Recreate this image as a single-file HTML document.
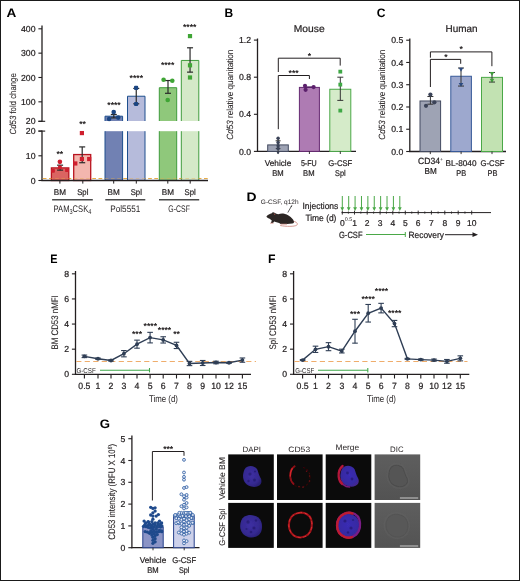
<!DOCTYPE html>
<html><head><meta charset="utf-8"><title>Figure</title>
<style>
html,body{margin:0;padding:0;background:#fff;}
body{width:520px;height:581px;overflow:hidden;font-family:"Liberation Sans",sans-serif;}
svg{display:block;font-family:"Liberation Sans",sans-serif;text-rendering:geometricPrecision;}
</style></head><body>
<svg width="520" height="581" viewBox="0 0 520 581" style="opacity:0.999">
<defs>
<filter id="b1" x="-20%" y="-20%" width="140%" height="140%"><feGaussianBlur stdDeviation="0.7"/></filter>
<filter id="b2" x="-20%" y="-20%" width="140%" height="140%"><feGaussianBlur stdDeviation="0.55"/></filter>
<radialGradient id="gb" cx="45%" cy="45%" r="60%"><stop offset="0" stop-color="#3d2fa2"/><stop offset="0.7" stop-color="#352990"/><stop offset="1" stop-color="#281f74"/></radialGradient>
<radialGradient id="gb2" cx="50%" cy="45%" r="60%"><stop offset="0" stop-color="#3a2db4"/><stop offset="0.7" stop-color="#3629a2"/><stop offset="1" stop-color="#46288c"/></radialGradient>
<linearGradient id="dic" x1="0" y1="0" x2="0" y2="1"><stop offset="0" stop-color="#5e5e5e"/><stop offset="1" stop-color="#535353"/></linearGradient>
</defs>
<rect x="0" y="0" width="520" height="581" fill="#fff"/>

<text transform="translate(6.56 16.80) scale(1.104 1)" font-size="12.3" font-weight="bold" fill="#000">A</text>
<line x1="42.00" y1="25.50" x2="42.00" y2="121.80" stroke="#231f20" stroke-width="1.3" />
<line x1="42.00" y1="130.60" x2="42.00" y2="181.10" stroke="#231f20" stroke-width="1.3" />
<line x1="38.40" y1="121.30" x2="45.20" y2="121.30" stroke="#231f20" stroke-width="1.1" />
<line x1="38.40" y1="131.10" x2="45.20" y2="131.10" stroke="#231f20" stroke-width="1.1" />
<line x1="38.40" y1="28.81" x2="42.00" y2="28.81" stroke="#231f20" stroke-width="1.1" />
<text transform="translate(35.50 31.96) scale(1.000 1)" font-size="8.7" text-anchor="end" font-weight="normal" fill="#231f20"  stroke="#231f20" stroke-width="0.22">400</text>
<line x1="38.40" y1="53.15" x2="42.00" y2="53.15" stroke="#231f20" stroke-width="1.1" />
<text transform="translate(35.50 56.30) scale(1.000 1)" font-size="8.7" text-anchor="end" font-weight="normal" fill="#231f20"  stroke="#231f20" stroke-width="0.22">300</text>
<line x1="38.40" y1="77.49" x2="42.00" y2="77.49" stroke="#231f20" stroke-width="1.1" />
<text transform="translate(35.50 80.64) scale(1.000 1)" font-size="8.7" text-anchor="end" font-weight="normal" fill="#231f20"  stroke="#231f20" stroke-width="0.22">200</text>
<line x1="38.40" y1="101.83" x2="42.00" y2="101.83" stroke="#231f20" stroke-width="1.1" />
<text transform="translate(35.50 104.98) scale(1.000 1)" font-size="8.7" text-anchor="end" font-weight="normal" fill="#231f20"  stroke="#231f20" stroke-width="0.22">100</text>
<line x1="38.40" y1="121.30" x2="42.00" y2="121.30" stroke="#231f20" stroke-width="1.1" />
<text transform="translate(35.50 124.45) scale(1.000 1)" font-size="8.7" text-anchor="end" font-weight="normal" fill="#231f20"  stroke="#231f20" stroke-width="0.22">20</text>
<line x1="38.40" y1="131.10" x2="42.00" y2="131.10" stroke="#231f20" stroke-width="1.1" />
<text transform="translate(35.50 134.25) scale(1.000 1)" font-size="8.7" text-anchor="end" font-weight="normal" fill="#231f20"  stroke="#231f20" stroke-width="0.22">20</text>
<line x1="38.40" y1="155.80" x2="42.00" y2="155.80" stroke="#231f20" stroke-width="1.1" />
<text transform="translate(35.50 158.95) scale(1.000 1)" font-size="8.7" text-anchor="end" font-weight="normal" fill="#231f20"  stroke="#231f20" stroke-width="0.22">10</text>
<line x1="38.40" y1="180.50" x2="42.00" y2="180.50" stroke="#231f20" stroke-width="1.1" />
<text transform="translate(35.50 183.65) scale(1.000 1)" font-size="8.7" text-anchor="end" font-weight="normal" fill="#231f20"  stroke="#231f20" stroke-width="0.22">0</text>
<line x1="42.80" y1="178.50" x2="208.00" y2="178.50" stroke="#e8ac48" stroke-width="1" stroke-dasharray="3.6 2.6"/>
<rect x="51.40" y="167.90" width="17.40" height="12.60" fill="#da6461" stroke="#b8141f" stroke-width="1.3" />
<line x1="60.10" y1="170.13" x2="60.10" y2="165.19" stroke="#2a2a2a" stroke-width="1.2" />
<line x1="57.10" y1="170.13" x2="63.10" y2="170.13" stroke="#2a2a2a" stroke-width="1.2" />
<line x1="57.10" y1="165.19" x2="63.10" y2="165.19" stroke="#2a2a2a" stroke-width="1.2" />
<circle cx="59.90" cy="161.83" r="2.3" fill="#cf1f2e" stroke="none" stroke-width="1" />
<rect x="51.10" y="168.97" width="3.80" height="3.80" fill="#cf1f2e" stroke="none" stroke-width="1" rx="0.9"/>
<rect x="58.00" y="165.51" width="3.80" height="3.80" fill="#cf1f2e" stroke="none" stroke-width="1" rx="0.9"/>
<rect x="65.10" y="168.23" width="3.80" height="3.80" fill="#cf1f2e" stroke="none" stroke-width="1" rx="0.9"/>
<rect x="73.70" y="154.56" width="17.00" height="25.94" fill="#f3b6ae" stroke="#b8141f" stroke-width="1.3" />
<line x1="82.20" y1="162.72" x2="82.20" y2="146.91" stroke="#2a2a2a" stroke-width="1.2" />
<line x1="79.20" y1="162.72" x2="85.20" y2="162.72" stroke="#2a2a2a" stroke-width="1.2" />
<line x1="79.20" y1="146.91" x2="85.20" y2="146.91" stroke="#2a2a2a" stroke-width="1.2" />
<rect x="73.20" y="161.36" width="4.20" height="4.20" fill="#cf1f2e" stroke="none" stroke-width="1" />
<rect x="79.80" y="130.98" width="4.20" height="4.20" fill="#cf1f2e" stroke="none" stroke-width="1" />
<rect x="79.80" y="156.91" width="4.20" height="4.20" fill="#cf1f2e" stroke="none" stroke-width="1" />
<rect x="87.10" y="156.91" width="4.20" height="4.20" fill="#cf1f2e" stroke="none" stroke-width="1" />
<rect x="105.00" y="131.20" width="17.60" height="49.30" fill="#7181b3" stroke="none" stroke-width="1" />
<line x1="105.00" y1="131.20" x2="105.00" y2="180.50" stroke="#1e4f8e" stroke-width="1" />
<line x1="122.60" y1="131.20" x2="122.60" y2="180.50" stroke="#1e4f8e" stroke-width="1" />
<rect x="105.00" y="116.19" width="17.60" height="4.81" fill="#7181b3" stroke="none" stroke-width="1" />
<path d="M105 121 V116.19 H122.6 V121" fill="none" stroke="#1e4f8e" stroke-width="1"/>
<line x1="113.80" y1="117.89" x2="113.80" y2="114.48" stroke="#2a2a2a" stroke-width="1.2" />
<line x1="110.80" y1="117.89" x2="116.80" y2="117.89" stroke="#2a2a2a" stroke-width="1.2" />
<line x1="110.80" y1="114.48" x2="116.80" y2="114.48" stroke="#2a2a2a" stroke-width="1.2" />
<circle cx="109.10" cy="118.99" r="2.3" fill="#1b4582" stroke="none" stroke-width="1" />
<circle cx="113.70" cy="112.10" r="2.3" fill="#1b4582" stroke="none" stroke-width="1" />
<circle cx="118.20" cy="117.60" r="2.3" fill="#1b4582" stroke="none" stroke-width="1" />
<rect x="127.50" y="131.20" width="17.50" height="49.30" fill="#b6bbdb" stroke="none" stroke-width="1" />
<line x1="127.50" y1="131.20" x2="127.50" y2="180.50" stroke="#1e4f8e" stroke-width="1" />
<line x1="145.00" y1="131.20" x2="145.00" y2="180.50" stroke="#1e4f8e" stroke-width="1" />
<rect x="127.50" y="96.23" width="17.50" height="24.77" fill="#b6bbdb" stroke="none" stroke-width="1" />
<path d="M127.5 121 V96.23 H145 V121" fill="none" stroke="#1e4f8e" stroke-width="1"/>
<line x1="136.25" y1="103.78" x2="136.25" y2="88.44" stroke="#2a2a2a" stroke-width="1.2" />
<line x1="133.25" y1="103.78" x2="139.25" y2="103.78" stroke="#2a2a2a" stroke-width="1.2" />
<line x1="133.25" y1="88.44" x2="139.25" y2="88.44" stroke="#2a2a2a" stroke-width="1.2" />
<rect x="134.00" y="85.85" width="4.20" height="4.20" fill="#1b4582" stroke="none" stroke-width="1" rx="1.1"/>
<rect x="134.00" y="101.92" width="4.20" height="4.20" fill="#1b4582" stroke="none" stroke-width="1" rx="1.1"/>
<rect x="159.30" y="131.20" width="17.40" height="49.30" fill="#8fc87b" stroke="none" stroke-width="1" />
<line x1="159.30" y1="131.20" x2="159.30" y2="180.50" stroke="#3f9c3c" stroke-width="1" />
<line x1="176.70" y1="131.20" x2="176.70" y2="180.50" stroke="#3f9c3c" stroke-width="1" />
<rect x="159.30" y="87.71" width="17.40" height="33.29" fill="#8fc87b" stroke="none" stroke-width="1" />
<path d="M159.3 121 V87.71 H176.7 V121" fill="none" stroke="#3f9c3c" stroke-width="1"/>
<line x1="168.00" y1="93.31" x2="168.00" y2="80.53" stroke="#2a2a2a" stroke-width="1.2" />
<line x1="165.00" y1="93.31" x2="171.00" y2="93.31" stroke="#2a2a2a" stroke-width="1.2" />
<line x1="165.00" y1="80.53" x2="171.00" y2="80.53" stroke="#2a2a2a" stroke-width="1.2" />
<circle cx="163.60" cy="79.80" r="2.3" fill="#3fa535" stroke="none" stroke-width="1" />
<circle cx="172.30" cy="80.80" r="2.3" fill="#3fa535" stroke="none" stroke-width="1" />
<circle cx="167.70" cy="100.00" r="2.3" fill="#3fa535" stroke="none" stroke-width="1" />
<rect x="181.30" y="131.20" width="17.50" height="49.30" fill="#d4e9c8" stroke="none" stroke-width="1" />
<line x1="181.30" y1="131.20" x2="181.30" y2="180.50" stroke="#3f9c3c" stroke-width="1" />
<line x1="198.80" y1="131.20" x2="198.80" y2="180.50" stroke="#3f9c3c" stroke-width="1" />
<rect x="181.30" y="60.45" width="17.50" height="60.55" fill="#d4e9c8" stroke="none" stroke-width="1" />
<path d="M181.3 121 V60.45 H198.8 V121" fill="none" stroke="#3f9c3c" stroke-width="1"/>
<line x1="190.05" y1="72.13" x2="190.05" y2="47.79" stroke="#2a2a2a" stroke-width="1.2" />
<line x1="187.05" y1="72.13" x2="193.05" y2="72.13" stroke="#2a2a2a" stroke-width="1.2" />
<line x1="187.05" y1="47.79" x2="193.05" y2="47.79" stroke="#2a2a2a" stroke-width="1.2" />
<rect x="187.90" y="34.01" width="4.20" height="4.20" fill="#3fa535" stroke="none" stroke-width="1" />
<rect x="187.90" y="63.22" width="4.20" height="4.20" fill="#3fa535" stroke="none" stroke-width="1" />
<rect x="187.90" y="75.39" width="4.20" height="4.20" fill="#3fa535" stroke="none" stroke-width="1" />
<text transform="translate(59.80 156.82) scale(1.000 1)" font-size="8.6" text-anchor="middle" font-weight="bold" fill="#231f20" >**</text>
<text transform="translate(82.50 127.32) scale(1.000 1)" font-size="8.6" text-anchor="middle" font-weight="bold" fill="#231f20" >**</text>
<text transform="translate(114.00 107.92) scale(1.000 1)" font-size="8.6" text-anchor="middle" font-weight="bold" fill="#231f20" >****</text>
<text transform="translate(136.30 81.12) scale(1.000 1)" font-size="8.6" text-anchor="middle" font-weight="bold" fill="#231f20" >****</text>
<text transform="translate(167.60 67.92) scale(1.000 1)" font-size="8.6" text-anchor="middle" font-weight="bold" fill="#231f20" >****</text>
<text transform="translate(189.70 30.22) scale(1.000 1)" font-size="8.6" text-anchor="middle" font-weight="bold" fill="#231f20" >****</text>
<line x1="41.40" y1="180.50" x2="208.00" y2="180.50" stroke="#231f20" stroke-width="1.3" />
<line x1="42.80" y1="178.50" x2="208.00" y2="178.50" stroke="#e8ac48" stroke-width="1" stroke-dasharray="3.6 2.6" opacity="0.4"/>
<line x1="59.90" y1="180.50" x2="59.90" y2="183.60" stroke="#231f20" stroke-width="1" />
<text transform="translate(59.90 194.50) scale(0.980 1)" font-size="8.3" text-anchor="middle" font-weight="normal" fill="#231f20"  stroke="#231f20" stroke-width="0.22">BM</text>
<line x1="82.80" y1="180.50" x2="82.80" y2="183.60" stroke="#231f20" stroke-width="1" />
<text transform="translate(82.80 194.50) scale(0.934 1)" font-size="8.3" text-anchor="middle" font-weight="normal" fill="#231f20"  stroke="#231f20" stroke-width="0.22">Spl</text>
<line x1="113.70" y1="180.50" x2="113.70" y2="183.60" stroke="#231f20" stroke-width="1" />
<text transform="translate(113.70 194.50) scale(0.980 1)" font-size="8.3" text-anchor="middle" font-weight="normal" fill="#231f20"  stroke="#231f20" stroke-width="0.22">BM</text>
<line x1="136.30" y1="180.50" x2="136.30" y2="183.60" stroke="#231f20" stroke-width="1" />
<text transform="translate(136.30 194.50) scale(0.934 1)" font-size="8.3" text-anchor="middle" font-weight="normal" fill="#231f20"  stroke="#231f20" stroke-width="0.22">Spl</text>
<line x1="167.80" y1="180.50" x2="167.80" y2="183.60" stroke="#231f20" stroke-width="1" />
<text transform="translate(167.80 194.50) scale(0.980 1)" font-size="8.3" text-anchor="middle" font-weight="normal" fill="#231f20"  stroke="#231f20" stroke-width="0.22">BM</text>
<line x1="190.20" y1="180.50" x2="190.20" y2="183.60" stroke="#231f20" stroke-width="1" />
<text transform="translate(190.20 194.50) scale(0.934 1)" font-size="8.3" text-anchor="middle" font-weight="normal" fill="#231f20"  stroke="#231f20" stroke-width="0.22">Spl</text>
<line x1="52.10" y1="199.80" x2="92.80" y2="199.80" stroke="#4a4a4a" stroke-width="1.4" />
<text transform="translate(72.45 211.80) scale(0.799 1)" font-size="9.5" text-anchor="middle" font-weight="normal" fill="#231f20" >PAM<tspan font-size="7" dy="2">3</tspan><tspan dy="-2">CSK</tspan><tspan font-size="7" dy="2">4</tspan></text>
<line x1="105.30" y1="199.80" x2="145.30" y2="199.80" stroke="#4a4a4a" stroke-width="1.4" />
<text transform="translate(125.30 211.80) scale(0.861 1)" font-size="9.5" text-anchor="middle" font-weight="normal" fill="#231f20" >Pol5551</text>
<line x1="159.00" y1="199.80" x2="199.20" y2="199.80" stroke="#4a4a4a" stroke-width="1.4" />
<text transform="translate(179.10 211.80) scale(0.728 1)" font-size="9.5" text-anchor="middle" font-weight="normal" fill="#231f20" >G-CSF</text>
<text transform="translate(15.50 103.80) rotate(-90) scale(0.867 1)" font-size="9" text-anchor="middle" fill="#231f20" stroke="#231f20" stroke-width="0.08"><tspan font-style="italic">Cd53</tspan> fold change</text>
<text transform="translate(224.40 16.80) scale(0.975 1)" font-size="12.3" font-weight="bold" fill="#000">B</text>
<text transform="translate(309.20 32.30) scale(1.026 1)" font-size="10" text-anchor="middle" font-weight="normal" fill="#231f20"  stroke="#231f20" stroke-width="0.22">Mouse</text>
<line x1="257.50" y1="38.50" x2="257.50" y2="152.00" stroke="#231f20" stroke-width="1.3" />
<line x1="256.90" y1="151.40" x2="356.00" y2="151.40" stroke="#231f20" stroke-width="1.3" />
<line x1="253.90" y1="151.40" x2="257.50" y2="151.40" stroke="#231f20" stroke-width="1.1" />
<text transform="translate(251.00 154.55) scale(1.000 1)" font-size="8.7" text-anchor="end" font-weight="normal" fill="#231f20"  stroke="#231f20" stroke-width="0.22">0.0</text>
<line x1="253.90" y1="114.30" x2="257.50" y2="114.30" stroke="#231f20" stroke-width="1.1" />
<text transform="translate(251.00 117.45) scale(1.000 1)" font-size="8.7" text-anchor="end" font-weight="normal" fill="#231f20"  stroke="#231f20" stroke-width="0.22">0.4</text>
<line x1="253.90" y1="77.20" x2="257.50" y2="77.20" stroke="#231f20" stroke-width="1.1" />
<text transform="translate(251.00 80.35) scale(1.000 1)" font-size="8.7" text-anchor="end" font-weight="normal" fill="#231f20"  stroke="#231f20" stroke-width="0.22">0.8</text>
<line x1="253.90" y1="40.10" x2="257.50" y2="40.10" stroke="#231f20" stroke-width="1.1" />
<text transform="translate(251.00 43.25) scale(1.000 1)" font-size="8.7" text-anchor="end" font-weight="normal" fill="#231f20"  stroke="#231f20" stroke-width="0.22">1.2</text>
<rect x="267.70" y="144.91" width="20.60" height="6.49" fill="#9ea3b4" stroke="#434a60" stroke-width="1" />
<line x1="278.00" y1="151.40" x2="278.00" y2="154.00" stroke="#231f20" stroke-width="0.9" />
<rect x="299.40" y="87.40" width="20.00" height="64.00" fill="#ae7bb3" stroke="#652a72" stroke-width="1" />
<line x1="309.40" y1="151.40" x2="309.40" y2="154.00" stroke="#231f20" stroke-width="0.9" />
<rect x="329.80" y="89.26" width="21.00" height="62.14" fill="#d5ebc9" stroke="#4aa847" stroke-width="1" />
<line x1="340.30" y1="151.40" x2="340.30" y2="154.00" stroke="#231f20" stroke-width="0.9" />
<line x1="278.10" y1="138.00" x2="278.10" y2="152.50" stroke="#333" stroke-width="1" />
<line x1="275.60" y1="140.80" x2="280.60" y2="140.80" stroke="#333" stroke-width="1" />
<line x1="275.80" y1="148.60" x2="280.40" y2="148.60" stroke="#333" stroke-width="1" />
<circle cx="278.10" cy="138.30" r="1.75" fill="#3b4358" stroke="none" stroke-width="1" />
<circle cx="278.10" cy="142.40" r="1.75" fill="#3b4358" stroke="none" stroke-width="1" />
<circle cx="278.10" cy="145.80" r="1.75" fill="#3b4358" stroke="none" stroke-width="1" />
<circle cx="278.10" cy="148.60" r="1.75" fill="#3b4358" stroke="none" stroke-width="1" />
<path d="M276.3 151.6 h3.6 l-1.8 2.6z" fill="#3b4358"/>
<line x1="305.00" y1="87.03" x2="314.50" y2="87.03" stroke="#4a1a5a" stroke-width="1.2" />
<circle cx="305.00" cy="85.83" r="2.1" fill="#5b1f6c" stroke="none" stroke-width="1" />
<circle cx="305.60" cy="89.81" r="2.1" fill="#5b1f6c" stroke="none" stroke-width="1" />
<circle cx="313.60" cy="87.03" r="2.1" fill="#5b1f6c" stroke="none" stroke-width="1" />
<line x1="340.30" y1="100.39" x2="340.30" y2="77.20" stroke="#333" stroke-width="1" />
<line x1="337.30" y1="100.39" x2="343.30" y2="100.39" stroke="#333" stroke-width="1" />
<line x1="337.30" y1="77.20" x2="343.30" y2="77.20" stroke="#333" stroke-width="1" />
<rect x="338.40" y="69.73" width="3.80" height="3.80" fill="#3fa846" stroke="none" stroke-width="1" />
<rect x="338.40" y="82.72" width="3.80" height="3.80" fill="#3fa846" stroke="none" stroke-width="1" />
<rect x="338.40" y="108.69" width="3.80" height="3.80" fill="#3fa846" stroke="none" stroke-width="1" />
<path d="M278.3 72 V58.2 H340.2 V65.6" fill="none" stroke="#231f20" stroke-width="1"/>
<path d="M278.3 129.2 V75.5 H309.4 V79" fill="none" stroke="#231f20" stroke-width="1"/>
<text transform="translate(309.40 59.02) scale(1.000 1)" font-size="8.6" text-anchor="middle" font-weight="bold" fill="#231f20" >*</text>
<text transform="translate(293.60 75.82) scale(1.000 1)" font-size="8.6" text-anchor="middle" font-weight="bold" fill="#231f20" >***</text>
<text transform="translate(278.00 165.50) scale(0.990 1)" font-size="8.3" text-anchor="middle" font-weight="normal" fill="#231f20"  stroke="#231f20" stroke-width="0.22">Vehicle</text>
<text transform="translate(278.00 175.70) scale(0.924 1)" font-size="8.3" text-anchor="middle" font-weight="normal" fill="#231f20"  stroke="#231f20" stroke-width="0.22">BM</text>
<text transform="translate(308.80 165.50) scale(0.857 1)" font-size="8.3" text-anchor="middle" font-weight="normal" fill="#231f20"  stroke="#231f20" stroke-width="0.22">5-FU</text>
<text transform="translate(308.80 175.70) scale(0.924 1)" font-size="8.3" text-anchor="middle" font-weight="normal" fill="#231f20"  stroke="#231f20" stroke-width="0.22">BM</text>
<text transform="translate(340.30 165.50) scale(0.926 1)" font-size="8.3" text-anchor="middle" font-weight="normal" fill="#231f20"  stroke="#231f20" stroke-width="0.22">G-CSF</text>
<text transform="translate(340.30 175.70) scale(0.884 1)" font-size="8.3" text-anchor="middle" font-weight="normal" fill="#231f20"  stroke="#231f20" stroke-width="0.22">Spl</text>
<text transform="translate(233.40 94.70) rotate(-90) scale(0.904 1)" font-size="9" text-anchor="middle" fill="#231f20" stroke="#231f20" stroke-width="0.08"><tspan font-style="italic">Cd53</tspan> relative quanitation</text>
<text transform="translate(376.80 16.90) scale(0.984 1)" font-size="12.3" font-weight="bold" fill="#000">C</text>
<text transform="translate(461.50 31.90) scale(0.993 1)" font-size="10" text-anchor="middle" font-weight="normal" fill="#231f20"  stroke="#231f20" stroke-width="0.22">Human</text>
<line x1="409.80" y1="38.50" x2="409.80" y2="152.10" stroke="#231f20" stroke-width="1.3" />
<line x1="409.20" y1="151.50" x2="506.00" y2="151.50" stroke="#231f20" stroke-width="1.3" />
<line x1="406.20" y1="151.50" x2="409.80" y2="151.50" stroke="#231f20" stroke-width="1.1" />
<text transform="translate(403.30 154.65) scale(1.000 1)" font-size="8.7" text-anchor="end" font-weight="normal" fill="#231f20"  stroke="#231f20" stroke-width="0.22">0.0</text>
<line x1="406.20" y1="129.24" x2="409.80" y2="129.24" stroke="#231f20" stroke-width="1.1" />
<text transform="translate(403.30 132.39) scale(1.000 1)" font-size="8.7" text-anchor="end" font-weight="normal" fill="#231f20"  stroke="#231f20" stroke-width="0.22">0.1</text>
<line x1="406.20" y1="106.98" x2="409.80" y2="106.98" stroke="#231f20" stroke-width="1.1" />
<text transform="translate(403.30 110.13) scale(1.000 1)" font-size="8.7" text-anchor="end" font-weight="normal" fill="#231f20"  stroke="#231f20" stroke-width="0.22">0.2</text>
<line x1="406.20" y1="84.72" x2="409.80" y2="84.72" stroke="#231f20" stroke-width="1.1" />
<text transform="translate(403.30 87.87) scale(1.000 1)" font-size="8.7" text-anchor="end" font-weight="normal" fill="#231f20"  stroke="#231f20" stroke-width="0.22">0.3</text>
<line x1="406.20" y1="62.46" x2="409.80" y2="62.46" stroke="#231f20" stroke-width="1.1" />
<text transform="translate(403.30 65.61) scale(1.000 1)" font-size="8.7" text-anchor="end" font-weight="normal" fill="#231f20"  stroke="#231f20" stroke-width="0.22">0.4</text>
<line x1="406.20" y1="40.20" x2="409.80" y2="40.20" stroke="#231f20" stroke-width="1.1" />
<text transform="translate(403.30 43.35) scale(1.000 1)" font-size="8.7" text-anchor="end" font-weight="normal" fill="#231f20"  stroke="#231f20" stroke-width="0.22">0.5</text>
<rect x="420.00" y="100.97" width="20.60" height="50.53" fill="#9ea3b4" stroke="#434a60" stroke-width="1" />
<line x1="430.30" y1="151.50" x2="430.30" y2="154.10" stroke="#231f20" stroke-width="0.9" />
<rect x="450.80" y="76.26" width="20.60" height="75.24" fill="#9da8ce" stroke="#385a9a" stroke-width="1" />
<line x1="461.10" y1="151.50" x2="461.10" y2="154.10" stroke="#231f20" stroke-width="0.9" />
<rect x="481.50" y="77.37" width="21.00" height="74.13" fill="#c2e2b2" stroke="#4aa847" stroke-width="1" />
<line x1="492.00" y1="151.50" x2="492.00" y2="154.10" stroke="#231f20" stroke-width="0.9" />
<line x1="430.40" y1="104.20" x2="430.40" y2="96.52" stroke="#333" stroke-width="1" />
<line x1="427.40" y1="104.20" x2="433.40" y2="104.20" stroke="#333" stroke-width="1" />
<line x1="427.40" y1="96.52" x2="433.40" y2="96.52" stroke="#333" stroke-width="1" />
<circle cx="426.00" cy="105.80" r="2.1" fill="#3b4358" stroke="none" stroke-width="1" />
<circle cx="430.40" cy="94.60" r="2.1" fill="#3b4358" stroke="none" stroke-width="1" />
<circle cx="434.40" cy="102.31" r="2.1" fill="#3b4358" stroke="none" stroke-width="1" />
<line x1="461.00" y1="86.06" x2="461.00" y2="68.03" stroke="#333" stroke-width="1" />
<line x1="458.00" y1="86.06" x2="464.00" y2="86.06" stroke="#333" stroke-width="1" />
<line x1="458.00" y1="68.03" x2="464.00" y2="68.03" stroke="#333" stroke-width="1" />
<path d="M458.70 67.74 h4.6 l-2.3 3.91z" fill="#2c4a80"/>
<path d="M458.70 82.88 h4.6 l-2.3 3.91z" fill="#2c4a80"/>
<line x1="492.00" y1="82.05" x2="492.00" y2="72.48" stroke="#333" stroke-width="1" />
<line x1="489.00" y1="82.05" x2="495.00" y2="82.05" stroke="#333" stroke-width="1" />
<line x1="489.00" y1="72.48" x2="495.00" y2="72.48" stroke="#333" stroke-width="1" />
<path d="M489.70 71.97 h4.6 l-2.3 3.91z" fill="#3f9c3c"/>
<path d="M489.70 78.87 h4.6 l-2.3 3.91z" fill="#3f9c3c"/>
<path d="M430.4 57.7 V51.9 H491.9 V66.2" fill="none" stroke="#231f20" stroke-width="1"/>
<path d="M430.4 87 V59.4 H460.7 V63.8" fill="none" stroke="#231f20" stroke-width="1"/>
<text transform="translate(461.20 52.42) scale(1.000 1)" font-size="8.6" text-anchor="middle" font-weight="bold" fill="#231f20" >*</text>
<text transform="translate(445.80 59.52) scale(1.000 1)" font-size="8.6" text-anchor="middle" font-weight="bold" fill="#231f20" >*</text>
<text transform="translate(429.00 164.30) scale(0.952 1)" font-size="9" text-anchor="middle" font-weight="normal" fill="#231f20"  stroke="#231f20" stroke-width="0.22">CD34</text>
<text transform="translate(441.40 160.50) scale(1.000 1)" font-size="5" text-anchor="middle" font-weight="normal" fill="#231f20" >+</text>
<text transform="translate(430.60 173.80) scale(0.946 1)" font-size="8.6" text-anchor="middle" font-weight="normal" fill="#231f20"  stroke="#231f20" stroke-width="0.22">BM</text>
<text transform="translate(461.00 165.50) scale(0.985 1)" font-size="8.3" text-anchor="middle" font-weight="normal" fill="#231f20"  stroke="#231f20" stroke-width="0.22">BL-8040</text>
<text transform="translate(461.30 175.50) scale(0.894 1)" font-size="8.3" text-anchor="middle" font-weight="normal" fill="#231f20"  stroke="#231f20" stroke-width="0.22">PB</text>
<text transform="translate(492.50 165.50) scale(0.926 1)" font-size="8.3" text-anchor="middle" font-weight="normal" fill="#231f20"  stroke="#231f20" stroke-width="0.22">G-CSF</text>
<text transform="translate(492.50 175.50) scale(0.894 1)" font-size="8.3" text-anchor="middle" font-weight="normal" fill="#231f20"  stroke="#231f20" stroke-width="0.22">PB</text>
<text transform="translate(385.20 94.70) rotate(-90) scale(0.904 1)" font-size="9" text-anchor="middle" fill="#231f20" stroke="#231f20" stroke-width="0.08"><tspan font-style="italic">Cd53</tspan> relative quanitation</text>
<text transform="translate(246.57 201.00) scale(1.129 1)" font-size="12.3" font-weight="bold" fill="#000">D</text>
<text transform="translate(260.80 203.80) scale(1.006 1)" font-size="6.5" text-anchor="start" font-weight="normal" fill="#231f20" >G-CSF, q12h</text>
<line x1="291.60" y1="205.80" x2="287.80" y2="212.60" stroke="#3a3a3a" stroke-width="0.8" />
<path d="M292.3 204.8 l-1.7 1.6 l1.2 0.7z" fill="#3a3a3a"/>
<g>
<path d="M293.4 221.3 C296.6 221.6 298.3 223.8 296.8 225.1 C294.6 226.8 286 226.6 280.6 225.6" fill="none" stroke="#cf8f86" stroke-width="0.9" stroke-linecap="round"/>
<path d="M266.4 216.4 C267.8 215 269.8 213.8 271.8 213.3 C272.2 212 273.8 211.7 274.5 212.8 C275.8 213.4 277 214.2 278.2 214.2 C280 213.6 282.5 213.4 284.2 213.8 C286 214.2 287.6 214.9 288.9 215.8 C291.4 217.4 293.3 219.4 293.9 221.4 C294.2 222.6 293.6 223.3 292.4 223.4 L287 223.9 L280.6 223.9 C279.8 223.3 278.6 222.8 277.4 222.5 C276.2 222.1 275 221.7 274.2 221.4 L273 223 L270.9 223 L271.8 220.4 C270.6 219.8 269.8 219 269.2 218.6 C268 218.2 267 217.4 266.4 216.4Z" fill="#2c2624"/>
<path d="M270.5 223.2 h2.6" stroke="#cf8f86" stroke-width="0.8" stroke-linecap="round"/>
<path d="M281 224.2 h5.6" stroke="#cf8f86" stroke-width="0.8" stroke-linecap="round"/>
<path d="M274.3 213.4 l0.6 1.6" stroke="#b0564e" stroke-width="0.8"/>
</g>
<text transform="translate(302.50 208.50) scale(0.942 1)" font-size="9" text-anchor="start" font-weight="normal" fill="#231f20"  stroke="#231f20" stroke-width="0.22">Injections</text>
<text transform="translate(305.40 221.00) scale(0.935 1)" font-size="9" text-anchor="start" font-weight="normal" fill="#231f20"  stroke="#231f20" stroke-width="0.22">Time (d)</text>
<line x1="341.50" y1="212.60" x2="491.00" y2="212.60" stroke="#231f20" stroke-width="1" />
<line x1="342.30" y1="210.60" x2="342.30" y2="214.60" stroke="#231f20" stroke-width="0.9" />
<text transform="translate(342.30 225.60) scale(1.000 1)" font-size="8.5" text-anchor="middle" font-weight="normal" fill="#231f20"  stroke="#231f20" stroke-width="0.22">0</text>
<line x1="354.50" y1="210.60" x2="354.50" y2="214.60" stroke="#231f20" stroke-width="0.9" />
<text transform="translate(354.50 225.60) scale(1.000 1)" font-size="8.5" text-anchor="middle" font-weight="normal" fill="#231f20"  stroke="#231f20" stroke-width="0.22">1</text>
<line x1="367.20" y1="210.60" x2="367.20" y2="214.60" stroke="#231f20" stroke-width="0.9" />
<text transform="translate(367.20 225.60) scale(1.000 1)" font-size="8.5" text-anchor="middle" font-weight="normal" fill="#231f20"  stroke="#231f20" stroke-width="0.22">2</text>
<line x1="380.10" y1="210.60" x2="380.10" y2="214.60" stroke="#231f20" stroke-width="0.9" />
<text transform="translate(380.10 225.60) scale(1.000 1)" font-size="8.5" text-anchor="middle" font-weight="normal" fill="#231f20"  stroke="#231f20" stroke-width="0.22">3</text>
<line x1="392.80" y1="210.60" x2="392.80" y2="214.60" stroke="#231f20" stroke-width="0.9" />
<text transform="translate(392.80 225.60) scale(1.000 1)" font-size="8.5" text-anchor="middle" font-weight="normal" fill="#231f20"  stroke="#231f20" stroke-width="0.22">4</text>
<line x1="405.30" y1="210.60" x2="405.30" y2="214.60" stroke="#231f20" stroke-width="0.9" />
<text transform="translate(405.30 225.60) scale(1.000 1)" font-size="8.5" text-anchor="middle" font-weight="normal" fill="#231f20"  stroke="#231f20" stroke-width="0.22">5</text>
<line x1="418.20" y1="210.60" x2="418.20" y2="214.60" stroke="#231f20" stroke-width="0.9" />
<text transform="translate(418.20 225.60) scale(1.000 1)" font-size="8.5" text-anchor="middle" font-weight="normal" fill="#231f20"  stroke="#231f20" stroke-width="0.22">6</text>
<line x1="431.40" y1="210.60" x2="431.40" y2="214.60" stroke="#231f20" stroke-width="0.9" />
<text transform="translate(431.40 225.60) scale(1.000 1)" font-size="8.5" text-anchor="middle" font-weight="normal" fill="#231f20"  stroke="#231f20" stroke-width="0.22">7</text>
<line x1="444.80" y1="210.60" x2="444.80" y2="214.60" stroke="#231f20" stroke-width="0.9" />
<text transform="translate(444.80 225.60) scale(1.000 1)" font-size="8.5" text-anchor="middle" font-weight="normal" fill="#231f20"  stroke="#231f20" stroke-width="0.22">8</text>
<line x1="458.20" y1="210.60" x2="458.20" y2="214.60" stroke="#231f20" stroke-width="0.9" />
<text transform="translate(458.20 225.60) scale(1.000 1)" font-size="8.5" text-anchor="middle" font-weight="normal" fill="#231f20"  stroke="#231f20" stroke-width="0.22">9</text>
<line x1="471.70" y1="210.60" x2="471.70" y2="214.60" stroke="#231f20" stroke-width="0.9" />
<text transform="translate(471.70 225.60) scale(1.000 1)" font-size="8.5" text-anchor="middle" font-weight="normal" fill="#231f20"  stroke="#231f20" stroke-width="0.22">10</text>
<line x1="348.40" y1="211.40" x2="348.40" y2="213.80" stroke="#231f20" stroke-width="0.7" />
<line x1="360.85" y1="211.40" x2="360.85" y2="213.80" stroke="#231f20" stroke-width="0.7" />
<line x1="373.65" y1="211.40" x2="373.65" y2="213.80" stroke="#231f20" stroke-width="0.7" />
<line x1="386.45" y1="211.40" x2="386.45" y2="213.80" stroke="#231f20" stroke-width="0.7" />
<line x1="399.05" y1="211.40" x2="399.05" y2="213.80" stroke="#231f20" stroke-width="0.7" />
<line x1="411.75" y1="211.40" x2="411.75" y2="213.80" stroke="#231f20" stroke-width="0.7" />
<line x1="424.80" y1="211.40" x2="424.80" y2="213.80" stroke="#231f20" stroke-width="0.7" />
<line x1="438.10" y1="211.40" x2="438.10" y2="213.80" stroke="#231f20" stroke-width="0.7" />
<line x1="451.50" y1="211.40" x2="451.50" y2="213.80" stroke="#231f20" stroke-width="0.7" />
<line x1="464.95" y1="211.40" x2="464.95" y2="213.80" stroke="#231f20" stroke-width="0.7" />
<text transform="translate(348.40 220.60) scale(1.000 1)" font-size="5.4" text-anchor="middle" font-weight="normal" fill="#231f20" >0.5</text>
<line x1="342.30" y1="196.00" x2="342.30" y2="208.50" stroke="#4aa847" stroke-width="1" />
<path d="M340.40 207.3 h3.8 l-1.9 3.6z" fill="#4aa847"/>
<line x1="348.69" y1="196.00" x2="348.69" y2="208.50" stroke="#4aa847" stroke-width="1" />
<path d="M346.79 207.3 h3.8 l-1.9 3.6z" fill="#4aa847"/>
<line x1="355.08" y1="196.00" x2="355.08" y2="208.50" stroke="#4aa847" stroke-width="1" />
<path d="M353.18 207.3 h3.8 l-1.9 3.6z" fill="#4aa847"/>
<line x1="361.47" y1="196.00" x2="361.47" y2="208.50" stroke="#4aa847" stroke-width="1" />
<path d="M359.57 207.3 h3.8 l-1.9 3.6z" fill="#4aa847"/>
<line x1="367.86" y1="196.00" x2="367.86" y2="208.50" stroke="#4aa847" stroke-width="1" />
<path d="M365.96 207.3 h3.8 l-1.9 3.6z" fill="#4aa847"/>
<line x1="374.25" y1="196.00" x2="374.25" y2="208.50" stroke="#4aa847" stroke-width="1" />
<path d="M372.35 207.3 h3.8 l-1.9 3.6z" fill="#4aa847"/>
<line x1="380.64" y1="196.00" x2="380.64" y2="208.50" stroke="#4aa847" stroke-width="1" />
<path d="M378.74 207.3 h3.8 l-1.9 3.6z" fill="#4aa847"/>
<line x1="387.03" y1="196.00" x2="387.03" y2="208.50" stroke="#4aa847" stroke-width="1" />
<path d="M385.13 207.3 h3.8 l-1.9 3.6z" fill="#4aa847"/>
<line x1="393.42" y1="196.00" x2="393.42" y2="208.50" stroke="#4aa847" stroke-width="1" />
<path d="M391.52 207.3 h3.8 l-1.9 3.6z" fill="#4aa847"/>
<line x1="399.81" y1="196.00" x2="399.81" y2="208.50" stroke="#4aa847" stroke-width="1" />
<path d="M397.91 207.3 h3.8 l-1.9 3.6z" fill="#4aa847"/>
<text transform="translate(339.00 237.90) scale(0.839 1)" font-size="9" text-anchor="start" font-weight="normal" fill="#231f20"  stroke="#231f20" stroke-width="0.22">G-CSF</text>
<line x1="366.00" y1="234.50" x2="405.30" y2="234.50" stroke="#4aa847" stroke-width="1" />
<line x1="405.30" y1="232.00" x2="405.30" y2="237.00" stroke="#4aa847" stroke-width="1" />
<text transform="translate(408.50 237.90) scale(0.934 1)" font-size="9" text-anchor="start" font-weight="normal" fill="#231f20"  stroke="#231f20" stroke-width="0.22">Recovery</text>
<line x1="445.00" y1="234.70" x2="474.00" y2="234.70" stroke="#231f20" stroke-width="1" />
<path d="M472.5 232.3 l5.5 2.4 l-5.5 2.4z" fill="#231f20"/>
<text transform="translate(50.27 262.80) scale(0.886 1)" font-size="12.3" font-weight="bold" fill="#000">E</text>
<line x1="75.50" y1="271.00" x2="75.50" y2="374.90" stroke="#231f20" stroke-width="1.3" />
<line x1="74.90" y1="374.30" x2="251.00" y2="374.30" stroke="#231f20" stroke-width="1.3" />
<line x1="71.90" y1="374.30" x2="75.50" y2="374.30" stroke="#231f20" stroke-width="1.1" />
<text transform="translate(69.00 377.45) scale(1.000 1)" font-size="8.7" text-anchor="end" font-weight="normal" fill="#231f20"  stroke="#231f20" stroke-width="0.22">0</text>
<line x1="71.90" y1="349.18" x2="75.50" y2="349.18" stroke="#231f20" stroke-width="1.1" />
<text transform="translate(69.00 352.33) scale(1.000 1)" font-size="8.7" text-anchor="end" font-weight="normal" fill="#231f20"  stroke="#231f20" stroke-width="0.22">2</text>
<line x1="71.90" y1="324.06" x2="75.50" y2="324.06" stroke="#231f20" stroke-width="1.1" />
<text transform="translate(69.00 327.21) scale(1.000 1)" font-size="8.7" text-anchor="end" font-weight="normal" fill="#231f20"  stroke="#231f20" stroke-width="0.22">4</text>
<line x1="71.90" y1="298.94" x2="75.50" y2="298.94" stroke="#231f20" stroke-width="1.1" />
<text transform="translate(69.00 302.09) scale(1.000 1)" font-size="8.7" text-anchor="end" font-weight="normal" fill="#231f20"  stroke="#231f20" stroke-width="0.22">6</text>
<line x1="71.90" y1="273.82" x2="75.50" y2="273.82" stroke="#231f20" stroke-width="1.1" />
<text transform="translate(69.00 276.97) scale(1.000 1)" font-size="8.7" text-anchor="end" font-weight="normal" fill="#231f20"  stroke="#231f20" stroke-width="0.22">8</text>
<line x1="84.40" y1="374.30" x2="84.40" y2="378.50" stroke="#231f20" stroke-width="1.1" />
<text transform="translate(84.40 388.60) scale(0.967 1)" font-size="9" text-anchor="middle" font-weight="normal" fill="#231f20"  stroke="#231f20" stroke-width="0.22">0.5</text>
<line x1="98.00" y1="374.30" x2="98.00" y2="378.50" stroke="#231f20" stroke-width="1.1" />
<text transform="translate(98.00 388.60) scale(0.967 1)" font-size="9" text-anchor="middle" font-weight="normal" fill="#231f20"  stroke="#231f20" stroke-width="0.22">1</text>
<line x1="111.00" y1="374.30" x2="111.00" y2="378.50" stroke="#231f20" stroke-width="1.1" />
<text transform="translate(111.00 388.60) scale(0.967 1)" font-size="9" text-anchor="middle" font-weight="normal" fill="#231f20"  stroke="#231f20" stroke-width="0.22">2</text>
<line x1="123.90" y1="374.30" x2="123.90" y2="378.50" stroke="#231f20" stroke-width="1.1" />
<text transform="translate(123.90 388.60) scale(0.967 1)" font-size="9" text-anchor="middle" font-weight="normal" fill="#231f20"  stroke="#231f20" stroke-width="0.22">3</text>
<line x1="137.00" y1="374.30" x2="137.00" y2="378.50" stroke="#231f20" stroke-width="1.1" />
<text transform="translate(137.00 388.60) scale(0.967 1)" font-size="9" text-anchor="middle" font-weight="normal" fill="#231f20"  stroke="#231f20" stroke-width="0.22">4</text>
<line x1="150.10" y1="374.30" x2="150.10" y2="378.50" stroke="#231f20" stroke-width="1.1" />
<text transform="translate(150.10 388.60) scale(0.967 1)" font-size="9" text-anchor="middle" font-weight="normal" fill="#231f20"  stroke="#231f20" stroke-width="0.22">5</text>
<line x1="163.20" y1="374.30" x2="163.20" y2="378.50" stroke="#231f20" stroke-width="1.1" />
<text transform="translate(163.20 388.60) scale(0.967 1)" font-size="9" text-anchor="middle" font-weight="normal" fill="#231f20"  stroke="#231f20" stroke-width="0.22">6</text>
<line x1="176.50" y1="374.30" x2="176.50" y2="378.50" stroke="#231f20" stroke-width="1.1" />
<text transform="translate(176.50 388.60) scale(0.967 1)" font-size="9" text-anchor="middle" font-weight="normal" fill="#231f20"  stroke="#231f20" stroke-width="0.22">7</text>
<line x1="189.50" y1="374.30" x2="189.50" y2="378.50" stroke="#231f20" stroke-width="1.1" />
<text transform="translate(189.50 388.60) scale(0.967 1)" font-size="9" text-anchor="middle" font-weight="normal" fill="#231f20"  stroke="#231f20" stroke-width="0.22">8</text>
<line x1="202.70" y1="374.30" x2="202.70" y2="378.50" stroke="#231f20" stroke-width="1.1" />
<text transform="translate(202.70 388.60) scale(0.967 1)" font-size="9" text-anchor="middle" font-weight="normal" fill="#231f20"  stroke="#231f20" stroke-width="0.22">9</text>
<line x1="216.00" y1="374.30" x2="216.00" y2="378.50" stroke="#231f20" stroke-width="1.1" />
<text transform="translate(216.00 388.60) scale(0.967 1)" font-size="9" text-anchor="middle" font-weight="normal" fill="#231f20"  stroke="#231f20" stroke-width="0.22">10</text>
<line x1="229.00" y1="374.30" x2="229.00" y2="378.50" stroke="#231f20" stroke-width="1.1" />
<text transform="translate(229.00 388.60) scale(0.967 1)" font-size="9" text-anchor="middle" font-weight="normal" fill="#231f20"  stroke="#231f20" stroke-width="0.22">12</text>
<line x1="242.40" y1="374.30" x2="242.40" y2="378.50" stroke="#231f20" stroke-width="1.1" />
<text transform="translate(242.40 388.60) scale(0.967 1)" font-size="9" text-anchor="middle" font-weight="normal" fill="#231f20"  stroke="#231f20" stroke-width="0.22">15</text>
<line x1="76.20" y1="361.50" x2="256.00" y2="361.50" stroke="#efad6c" stroke-width="1" stroke-dasharray="5.2 3.3"/>
<polyline points="84.4,356.34 98,358.73 111,360.48 123.9,353.70 137,344.16 150.1,337.62 163.2,339.89 176.5,345.41 189.5,363.50 202.7,363.00 216,362.49 229,362.74 242.4,360.11" fill="none" stroke="#2f3e55" stroke-width="1.4"/>
<line x1="84.40" y1="357.60" x2="84.40" y2="355.08" stroke="#2f3e55" stroke-width="1.1" />
<line x1="81.60" y1="357.60" x2="87.20" y2="357.60" stroke="#2f3e55" stroke-width="1.1" />
<line x1="81.60" y1="355.08" x2="87.20" y2="355.08" stroke="#2f3e55" stroke-width="1.1" />
<circle cx="84.40" cy="356.34" r="1.9" fill="#2f3e55" stroke="none" stroke-width="1" />
<line x1="98.00" y1="359.35" x2="98.00" y2="358.10" stroke="#2f3e55" stroke-width="1.1" />
<line x1="95.20" y1="359.35" x2="100.80" y2="359.35" stroke="#2f3e55" stroke-width="1.1" />
<line x1="95.20" y1="358.10" x2="100.80" y2="358.10" stroke="#2f3e55" stroke-width="1.1" />
<circle cx="98.00" cy="358.73" r="1.9" fill="#2f3e55" stroke="none" stroke-width="1" />
<line x1="111.00" y1="361.11" x2="111.00" y2="359.86" stroke="#2f3e55" stroke-width="1.1" />
<line x1="108.20" y1="361.11" x2="113.80" y2="361.11" stroke="#2f3e55" stroke-width="1.1" />
<line x1="108.20" y1="359.86" x2="113.80" y2="359.86" stroke="#2f3e55" stroke-width="1.1" />
<circle cx="111.00" cy="360.48" r="1.9" fill="#2f3e55" stroke="none" stroke-width="1" />
<line x1="123.90" y1="356.84" x2="123.90" y2="350.56" stroke="#2f3e55" stroke-width="1.1" />
<line x1="121.10" y1="356.84" x2="126.70" y2="356.84" stroke="#2f3e55" stroke-width="1.1" />
<line x1="121.10" y1="350.56" x2="126.70" y2="350.56" stroke="#2f3e55" stroke-width="1.1" />
<circle cx="123.90" cy="353.70" r="1.9" fill="#2f3e55" stroke="none" stroke-width="1" />
<line x1="137.00" y1="348.18" x2="137.00" y2="340.14" stroke="#2f3e55" stroke-width="1.1" />
<line x1="134.20" y1="348.18" x2="139.80" y2="348.18" stroke="#2f3e55" stroke-width="1.1" />
<line x1="134.20" y1="340.14" x2="139.80" y2="340.14" stroke="#2f3e55" stroke-width="1.1" />
<circle cx="137.00" cy="344.16" r="1.9" fill="#2f3e55" stroke="none" stroke-width="1" />
<line x1="150.10" y1="342.90" x2="150.10" y2="332.35" stroke="#2f3e55" stroke-width="1.1" />
<line x1="147.30" y1="342.90" x2="152.90" y2="342.90" stroke="#2f3e55" stroke-width="1.1" />
<line x1="147.30" y1="332.35" x2="152.90" y2="332.35" stroke="#2f3e55" stroke-width="1.1" />
<circle cx="150.10" cy="337.62" r="1.9" fill="#2f3e55" stroke="none" stroke-width="1" />
<line x1="163.20" y1="343.03" x2="163.20" y2="336.75" stroke="#2f3e55" stroke-width="1.1" />
<line x1="160.40" y1="343.03" x2="166.00" y2="343.03" stroke="#2f3e55" stroke-width="1.1" />
<line x1="160.40" y1="336.75" x2="166.00" y2="336.75" stroke="#2f3e55" stroke-width="1.1" />
<circle cx="163.20" cy="339.89" r="1.9" fill="#2f3e55" stroke="none" stroke-width="1" />
<line x1="176.50" y1="348.55" x2="176.50" y2="342.27" stroke="#2f3e55" stroke-width="1.1" />
<line x1="173.70" y1="348.55" x2="179.30" y2="348.55" stroke="#2f3e55" stroke-width="1.1" />
<line x1="173.70" y1="342.27" x2="179.30" y2="342.27" stroke="#2f3e55" stroke-width="1.1" />
<circle cx="176.50" cy="345.41" r="1.9" fill="#2f3e55" stroke="none" stroke-width="1" />
<line x1="189.50" y1="365.63" x2="189.50" y2="361.36" stroke="#2f3e55" stroke-width="1.1" />
<line x1="186.70" y1="365.63" x2="192.30" y2="365.63" stroke="#2f3e55" stroke-width="1.1" />
<line x1="186.70" y1="361.36" x2="192.30" y2="361.36" stroke="#2f3e55" stroke-width="1.1" />
<circle cx="189.50" cy="363.50" r="1.9" fill="#2f3e55" stroke="none" stroke-width="1" />
<line x1="202.70" y1="365.51" x2="202.70" y2="360.48" stroke="#2f3e55" stroke-width="1.1" />
<line x1="199.90" y1="365.51" x2="205.50" y2="365.51" stroke="#2f3e55" stroke-width="1.1" />
<line x1="199.90" y1="360.48" x2="205.50" y2="360.48" stroke="#2f3e55" stroke-width="1.1" />
<circle cx="202.70" cy="363.00" r="1.9" fill="#2f3e55" stroke="none" stroke-width="1" />
<line x1="216.00" y1="363.75" x2="216.00" y2="361.24" stroke="#2f3e55" stroke-width="1.1" />
<line x1="213.20" y1="363.75" x2="218.80" y2="363.75" stroke="#2f3e55" stroke-width="1.1" />
<line x1="213.20" y1="361.24" x2="218.80" y2="361.24" stroke="#2f3e55" stroke-width="1.1" />
<circle cx="216.00" cy="362.49" r="1.9" fill="#2f3e55" stroke="none" stroke-width="1" />
<line x1="229.00" y1="363.37" x2="229.00" y2="362.12" stroke="#2f3e55" stroke-width="1.1" />
<line x1="226.20" y1="363.37" x2="231.80" y2="363.37" stroke="#2f3e55" stroke-width="1.1" />
<line x1="226.20" y1="362.12" x2="231.80" y2="362.12" stroke="#2f3e55" stroke-width="1.1" />
<circle cx="229.00" cy="362.74" r="1.9" fill="#2f3e55" stroke="none" stroke-width="1" />
<line x1="242.40" y1="362.24" x2="242.40" y2="357.97" stroke="#2f3e55" stroke-width="1.1" />
<line x1="239.60" y1="362.24" x2="245.20" y2="362.24" stroke="#2f3e55" stroke-width="1.1" />
<line x1="239.60" y1="357.97" x2="245.20" y2="357.97" stroke="#2f3e55" stroke-width="1.1" />
<circle cx="242.40" cy="360.11" r="1.9" fill="#2f3e55" stroke="none" stroke-width="1" />
<text transform="translate(76.40 373.00) scale(0.891 1)" font-size="7" text-anchor="start" font-weight="normal" fill="#231f20" >G-CSF</text>
<line x1="100.00" y1="370.20" x2="149.50" y2="370.20" stroke="#3fa84a" stroke-width="1.1" />
<line x1="149.50" y1="368.00" x2="149.50" y2="372.40" stroke="#3fa84a" stroke-width="1.1" />
<text transform="translate(137.00 336.82) scale(1.000 1)" font-size="8.6" text-anchor="middle" font-weight="bold" fill="#231f20" >***</text>
<text transform="translate(150.30 329.12) scale(1.000 1)" font-size="8.6" text-anchor="middle" font-weight="bold" fill="#231f20" >****</text>
<text transform="translate(164.50 333.02) scale(1.000 1)" font-size="8.6" text-anchor="middle" font-weight="bold" fill="#231f20" >****</text>
<text transform="translate(176.60 337.32) scale(1.000 1)" font-size="8.6" text-anchor="middle" font-weight="bold" fill="#231f20" >**</text>
<text transform="translate(58.20 322.40) rotate(-90) scale(0.831 1)" font-size="9.5" text-anchor="middle" fill="#231f20" stroke="#231f20" stroke-width="0.08">BM CD53 nMFI</text>
<text transform="translate(163.45 401.90) scale(0.811 1)" font-size="9.7" text-anchor="middle" font-weight="normal" fill="#231f20" >Time (d)</text>
<text transform="translate(267.98 262.80) scale(0.996 1)" font-size="12.3" font-weight="bold" fill="#000">F</text>
<line x1="293.60" y1="271.00" x2="293.60" y2="374.90" stroke="#231f20" stroke-width="1.3" />
<line x1="293.00" y1="374.30" x2="469.30" y2="374.30" stroke="#231f20" stroke-width="1.3" />
<line x1="290.00" y1="374.30" x2="293.60" y2="374.30" stroke="#231f20" stroke-width="1.1" />
<text transform="translate(287.10 377.45) scale(1.000 1)" font-size="8.7" text-anchor="end" font-weight="normal" fill="#231f20"  stroke="#231f20" stroke-width="0.22">0</text>
<line x1="290.00" y1="349.18" x2="293.60" y2="349.18" stroke="#231f20" stroke-width="1.1" />
<text transform="translate(287.10 352.33) scale(1.000 1)" font-size="8.7" text-anchor="end" font-weight="normal" fill="#231f20"  stroke="#231f20" stroke-width="0.22">2</text>
<line x1="290.00" y1="324.06" x2="293.60" y2="324.06" stroke="#231f20" stroke-width="1.1" />
<text transform="translate(287.10 327.21) scale(1.000 1)" font-size="8.7" text-anchor="end" font-weight="normal" fill="#231f20"  stroke="#231f20" stroke-width="0.22">4</text>
<line x1="290.00" y1="298.94" x2="293.60" y2="298.94" stroke="#231f20" stroke-width="1.1" />
<text transform="translate(287.10 302.09) scale(1.000 1)" font-size="8.7" text-anchor="end" font-weight="normal" fill="#231f20"  stroke="#231f20" stroke-width="0.22">6</text>
<line x1="290.00" y1="273.82" x2="293.60" y2="273.82" stroke="#231f20" stroke-width="1.1" />
<text transform="translate(287.10 276.97) scale(1.000 1)" font-size="8.7" text-anchor="end" font-weight="normal" fill="#231f20"  stroke="#231f20" stroke-width="0.22">8</text>
<line x1="302.60" y1="374.30" x2="302.60" y2="378.50" stroke="#231f20" stroke-width="1.1" />
<text transform="translate(302.60 388.60) scale(0.967 1)" font-size="9" text-anchor="middle" font-weight="normal" fill="#231f20"  stroke="#231f20" stroke-width="0.22">0.5</text>
<line x1="315.50" y1="374.30" x2="315.50" y2="378.50" stroke="#231f20" stroke-width="1.1" />
<text transform="translate(315.50 388.60) scale(0.967 1)" font-size="9" text-anchor="middle" font-weight="normal" fill="#231f20"  stroke="#231f20" stroke-width="0.22">1</text>
<line x1="328.50" y1="374.30" x2="328.50" y2="378.50" stroke="#231f20" stroke-width="1.1" />
<text transform="translate(328.50 388.60) scale(0.967 1)" font-size="9" text-anchor="middle" font-weight="normal" fill="#231f20"  stroke="#231f20" stroke-width="0.22">2</text>
<line x1="341.80" y1="374.30" x2="341.80" y2="378.50" stroke="#231f20" stroke-width="1.1" />
<text transform="translate(341.80 388.60) scale(0.967 1)" font-size="9" text-anchor="middle" font-weight="normal" fill="#231f20"  stroke="#231f20" stroke-width="0.22">3</text>
<line x1="355.00" y1="374.30" x2="355.00" y2="378.50" stroke="#231f20" stroke-width="1.1" />
<text transform="translate(355.00 388.60) scale(0.967 1)" font-size="9" text-anchor="middle" font-weight="normal" fill="#231f20"  stroke="#231f20" stroke-width="0.22">4</text>
<line x1="368.20" y1="374.30" x2="368.20" y2="378.50" stroke="#231f20" stroke-width="1.1" />
<text transform="translate(368.20 388.60) scale(0.967 1)" font-size="9" text-anchor="middle" font-weight="normal" fill="#231f20"  stroke="#231f20" stroke-width="0.22">5</text>
<line x1="381.10" y1="374.30" x2="381.10" y2="378.50" stroke="#231f20" stroke-width="1.1" />
<text transform="translate(381.10 388.60) scale(0.967 1)" font-size="9" text-anchor="middle" font-weight="normal" fill="#231f20"  stroke="#231f20" stroke-width="0.22">6</text>
<line x1="394.50" y1="374.30" x2="394.50" y2="378.50" stroke="#231f20" stroke-width="1.1" />
<text transform="translate(394.50 388.60) scale(0.967 1)" font-size="9" text-anchor="middle" font-weight="normal" fill="#231f20"  stroke="#231f20" stroke-width="0.22">7</text>
<line x1="407.40" y1="374.30" x2="407.40" y2="378.50" stroke="#231f20" stroke-width="1.1" />
<text transform="translate(407.40 388.60) scale(0.967 1)" font-size="9" text-anchor="middle" font-weight="normal" fill="#231f20"  stroke="#231f20" stroke-width="0.22">8</text>
<line x1="420.80" y1="374.30" x2="420.80" y2="378.50" stroke="#231f20" stroke-width="1.1" />
<text transform="translate(420.80 388.60) scale(0.967 1)" font-size="9" text-anchor="middle" font-weight="normal" fill="#231f20"  stroke="#231f20" stroke-width="0.22">9</text>
<line x1="434.00" y1="374.30" x2="434.00" y2="378.50" stroke="#231f20" stroke-width="1.1" />
<text transform="translate(434.00 388.60) scale(0.967 1)" font-size="9" text-anchor="middle" font-weight="normal" fill="#231f20"  stroke="#231f20" stroke-width="0.22">10</text>
<line x1="446.90" y1="374.30" x2="446.90" y2="378.50" stroke="#231f20" stroke-width="1.1" />
<text transform="translate(446.90 388.60) scale(0.967 1)" font-size="9" text-anchor="middle" font-weight="normal" fill="#231f20"  stroke="#231f20" stroke-width="0.22">12</text>
<line x1="460.30" y1="374.30" x2="460.30" y2="378.50" stroke="#231f20" stroke-width="1.1" />
<text transform="translate(460.30 388.60) scale(0.967 1)" font-size="9" text-anchor="middle" font-weight="normal" fill="#231f20"  stroke="#231f20" stroke-width="0.22">15</text>
<line x1="294.30" y1="361.50" x2="467.50" y2="361.50" stroke="#efad6c" stroke-width="1" stroke-dasharray="5.2 3.3"/>
<polyline points="302.6,360.11 315.5,349.31 328.5,346.67 341.8,351.06 355,331.22 368.2,313.26 381.1,308.11 394.5,323.56 407.4,358.85 420.8,359.60 434,360.11 446.9,361.36 460.3,358.35" fill="none" stroke="#2f3e55" stroke-width="1.4"/>
<line x1="302.60" y1="360.61" x2="302.60" y2="359.60" stroke="#2f3e55" stroke-width="1.1" />
<line x1="299.80" y1="360.61" x2="305.40" y2="360.61" stroke="#2f3e55" stroke-width="1.1" />
<line x1="299.80" y1="359.60" x2="305.40" y2="359.60" stroke="#2f3e55" stroke-width="1.1" />
<circle cx="302.60" cy="360.11" r="1.9" fill="#2f3e55" stroke="none" stroke-width="1" />
<line x1="315.50" y1="352.45" x2="315.50" y2="346.17" stroke="#2f3e55" stroke-width="1.1" />
<line x1="312.70" y1="352.45" x2="318.30" y2="352.45" stroke="#2f3e55" stroke-width="1.1" />
<line x1="312.70" y1="346.17" x2="318.30" y2="346.17" stroke="#2f3e55" stroke-width="1.1" />
<circle cx="315.50" cy="349.31" r="1.9" fill="#2f3e55" stroke="none" stroke-width="1" />
<line x1="328.50" y1="350.69" x2="328.50" y2="342.65" stroke="#2f3e55" stroke-width="1.1" />
<line x1="325.70" y1="350.69" x2="331.30" y2="350.69" stroke="#2f3e55" stroke-width="1.1" />
<line x1="325.70" y1="342.65" x2="331.30" y2="342.65" stroke="#2f3e55" stroke-width="1.1" />
<circle cx="328.50" cy="346.67" r="1.9" fill="#2f3e55" stroke="none" stroke-width="1" />
<line x1="341.80" y1="352.95" x2="341.80" y2="349.18" stroke="#2f3e55" stroke-width="1.1" />
<line x1="339.00" y1="352.95" x2="344.60" y2="352.95" stroke="#2f3e55" stroke-width="1.1" />
<line x1="339.00" y1="349.18" x2="344.60" y2="349.18" stroke="#2f3e55" stroke-width="1.1" />
<circle cx="341.80" cy="351.06" r="1.9" fill="#2f3e55" stroke="none" stroke-width="1" />
<line x1="355.00" y1="343.15" x2="355.00" y2="319.29" stroke="#2f3e55" stroke-width="1.1" />
<line x1="352.20" y1="343.15" x2="357.80" y2="343.15" stroke="#2f3e55" stroke-width="1.1" />
<line x1="352.20" y1="319.29" x2="357.80" y2="319.29" stroke="#2f3e55" stroke-width="1.1" />
<circle cx="355.00" cy="331.22" r="1.9" fill="#2f3e55" stroke="none" stroke-width="1" />
<line x1="368.20" y1="322.05" x2="368.20" y2="304.47" stroke="#2f3e55" stroke-width="1.1" />
<line x1="365.40" y1="322.05" x2="371.00" y2="322.05" stroke="#2f3e55" stroke-width="1.1" />
<line x1="365.40" y1="304.47" x2="371.00" y2="304.47" stroke="#2f3e55" stroke-width="1.1" />
<circle cx="368.20" cy="313.26" r="1.9" fill="#2f3e55" stroke="none" stroke-width="1" />
<line x1="381.10" y1="312.88" x2="381.10" y2="303.34" stroke="#2f3e55" stroke-width="1.1" />
<line x1="378.30" y1="312.88" x2="383.90" y2="312.88" stroke="#2f3e55" stroke-width="1.1" />
<line x1="378.30" y1="303.34" x2="383.90" y2="303.34" stroke="#2f3e55" stroke-width="1.1" />
<circle cx="381.10" cy="308.11" r="1.9" fill="#2f3e55" stroke="none" stroke-width="1" />
<line x1="394.50" y1="326.70" x2="394.50" y2="320.42" stroke="#2f3e55" stroke-width="1.1" />
<line x1="391.70" y1="326.70" x2="397.30" y2="326.70" stroke="#2f3e55" stroke-width="1.1" />
<line x1="391.70" y1="320.42" x2="397.30" y2="320.42" stroke="#2f3e55" stroke-width="1.1" />
<circle cx="394.50" cy="323.56" r="1.9" fill="#2f3e55" stroke="none" stroke-width="1" />
<line x1="407.40" y1="359.35" x2="407.40" y2="358.35" stroke="#2f3e55" stroke-width="1.1" />
<line x1="404.60" y1="359.35" x2="410.20" y2="359.35" stroke="#2f3e55" stroke-width="1.1" />
<line x1="404.60" y1="358.35" x2="410.20" y2="358.35" stroke="#2f3e55" stroke-width="1.1" />
<circle cx="407.40" cy="358.85" r="1.9" fill="#2f3e55" stroke="none" stroke-width="1" />
<line x1="420.80" y1="360.23" x2="420.80" y2="358.98" stroke="#2f3e55" stroke-width="1.1" />
<line x1="418.00" y1="360.23" x2="423.60" y2="360.23" stroke="#2f3e55" stroke-width="1.1" />
<line x1="418.00" y1="358.98" x2="423.60" y2="358.98" stroke="#2f3e55" stroke-width="1.1" />
<circle cx="420.80" cy="359.60" r="1.9" fill="#2f3e55" stroke="none" stroke-width="1" />
<line x1="434.00" y1="361.11" x2="434.00" y2="359.10" stroke="#2f3e55" stroke-width="1.1" />
<line x1="431.20" y1="361.11" x2="436.80" y2="361.11" stroke="#2f3e55" stroke-width="1.1" />
<line x1="431.20" y1="359.10" x2="436.80" y2="359.10" stroke="#2f3e55" stroke-width="1.1" />
<circle cx="434.00" cy="360.11" r="1.9" fill="#2f3e55" stroke="none" stroke-width="1" />
<line x1="446.90" y1="363.25" x2="446.90" y2="359.48" stroke="#2f3e55" stroke-width="1.1" />
<line x1="444.10" y1="363.25" x2="449.70" y2="363.25" stroke="#2f3e55" stroke-width="1.1" />
<line x1="444.10" y1="359.48" x2="449.70" y2="359.48" stroke="#2f3e55" stroke-width="1.1" />
<circle cx="446.90" cy="361.36" r="1.9" fill="#2f3e55" stroke="none" stroke-width="1" />
<line x1="460.30" y1="360.86" x2="460.30" y2="355.84" stroke="#2f3e55" stroke-width="1.1" />
<line x1="457.50" y1="360.86" x2="463.10" y2="360.86" stroke="#2f3e55" stroke-width="1.1" />
<line x1="457.50" y1="355.84" x2="463.10" y2="355.84" stroke="#2f3e55" stroke-width="1.1" />
<circle cx="460.30" cy="358.35" r="1.9" fill="#2f3e55" stroke="none" stroke-width="1" />
<text transform="translate(295.30 373.00) scale(0.873 1)" font-size="7" text-anchor="start" font-weight="normal" fill="#231f20" >G-CSF</text>
<line x1="318.00" y1="370.20" x2="367.80" y2="370.20" stroke="#3fa84a" stroke-width="1.1" />
<line x1="367.80" y1="368.00" x2="367.80" y2="372.40" stroke="#3fa84a" stroke-width="1.1" />
<text transform="translate(355.00 316.72) scale(1.000 1)" font-size="8.6" text-anchor="middle" font-weight="bold" fill="#231f20" >***</text>
<text transform="translate(368.20 302.32) scale(1.000 1)" font-size="8.6" text-anchor="middle" font-weight="bold" fill="#231f20" >****</text>
<text transform="translate(381.50 294.32) scale(1.000 1)" font-size="8.6" text-anchor="middle" font-weight="bold" fill="#231f20" >****</text>
<text transform="translate(394.70 315.72) scale(1.000 1)" font-size="8.6" text-anchor="middle" font-weight="bold" fill="#231f20" >****</text>
<text transform="translate(276.10 322.40) rotate(-90) scale(0.838 1)" font-size="9.5" text-anchor="middle" fill="#231f20" stroke="#231f20" stroke-width="0.08">Spl CD53 nMFI</text>
<text transform="translate(381.45 401.90) scale(0.811 1)" font-size="9.7" text-anchor="middle" font-weight="normal" fill="#231f20" >Time (d)</text>
<text transform="translate(99.66 427.90) scale(1.074 1)" font-size="12.3" font-weight="bold" fill="#000">G</text>
<line x1="131.90" y1="435.50" x2="131.90" y2="548.30" stroke="#231f20" stroke-width="1.3" />
<line x1="131.30" y1="547.70" x2="199.50" y2="547.70" stroke="#231f20" stroke-width="1.3" />
<line x1="128.30" y1="547.70" x2="131.90" y2="547.70" stroke="#231f20" stroke-width="1.1" />
<text transform="translate(125.40 550.85) scale(1.000 1)" font-size="8.7" text-anchor="end" font-weight="normal" fill="#231f20"  stroke="#231f20" stroke-width="0.22">0</text>
<line x1="128.30" y1="525.90" x2="131.90" y2="525.90" stroke="#231f20" stroke-width="1.1" />
<text transform="translate(125.40 529.05) scale(1.000 1)" font-size="8.7" text-anchor="end" font-weight="normal" fill="#231f20"  stroke="#231f20" stroke-width="0.22">1</text>
<line x1="128.30" y1="504.10" x2="131.90" y2="504.10" stroke="#231f20" stroke-width="1.1" />
<text transform="translate(125.40 507.25) scale(1.000 1)" font-size="8.7" text-anchor="end" font-weight="normal" fill="#231f20"  stroke="#231f20" stroke-width="0.22">2</text>
<line x1="128.30" y1="482.30" x2="131.90" y2="482.30" stroke="#231f20" stroke-width="1.1" />
<text transform="translate(125.40 485.45) scale(1.000 1)" font-size="8.7" text-anchor="end" font-weight="normal" fill="#231f20"  stroke="#231f20" stroke-width="0.22">3</text>
<line x1="128.30" y1="460.50" x2="131.90" y2="460.50" stroke="#231f20" stroke-width="1.1" />
<text transform="translate(125.40 463.65) scale(1.000 1)" font-size="8.7" text-anchor="end" font-weight="normal" fill="#231f20"  stroke="#231f20" stroke-width="0.22">4</text>
<line x1="128.30" y1="438.70" x2="131.90" y2="438.70" stroke="#231f20" stroke-width="1.1" />
<text transform="translate(125.40 441.85) scale(1.000 1)" font-size="8.7" text-anchor="end" font-weight="normal" fill="#231f20"  stroke="#231f20" stroke-width="0.22">5</text>
<rect x="142.80" y="527.10" width="20.40" height="20.60" fill="#8b94c6" stroke="#27408a" stroke-width="1" />
<rect x="173.60" y="515.76" width="20.60" height="31.94" fill="#cdd1ea" stroke="#27408a" stroke-width="1" />
<line x1="153.00" y1="547.70" x2="153.00" y2="550.30" stroke="#231f20" stroke-width="0.9" />
<line x1="184.20" y1="547.70" x2="184.20" y2="550.30" stroke="#231f20" stroke-width="0.9" />
<circle cx="152.90" cy="543.34" r="1.65" fill="#1f4a8c" stroke="none" stroke-width="1" />
<circle cx="155.10" cy="541.81" r="1.65" fill="#1f4a8c" stroke="none" stroke-width="1" />
<circle cx="152.90" cy="540.29" r="1.65" fill="#1f4a8c" stroke="none" stroke-width="1" />
<circle cx="155.10" cy="538.76" r="1.65" fill="#1f4a8c" stroke="none" stroke-width="1" />
<circle cx="152.90" cy="537.24" r="1.65" fill="#1f4a8c" stroke="none" stroke-width="1" />
<circle cx="155.10" cy="535.71" r="1.65" fill="#1f4a8c" stroke="none" stroke-width="1" />
<circle cx="151.80" cy="535.06" r="1.65" fill="#1f4a8c" stroke="none" stroke-width="1" />
<circle cx="157.30" cy="534.62" r="1.65" fill="#1f4a8c" stroke="none" stroke-width="1" />
<circle cx="154.00" cy="533.70" r="1.65" fill="#1f4a8c" stroke="none" stroke-width="1" />
<circle cx="149.60" cy="533.31" r="1.65" fill="#1f4a8c" stroke="none" stroke-width="1" />
<circle cx="151.80" cy="532.44" r="1.65" fill="#1f4a8c" stroke="none" stroke-width="1" />
<circle cx="156.20" cy="532.33" r="1.65" fill="#1f4a8c" stroke="none" stroke-width="1" />
<circle cx="147.40" cy="532.09" r="1.65" fill="#1f4a8c" stroke="none" stroke-width="1" />
<circle cx="158.40" cy="531.69" r="1.65" fill="#1f4a8c" stroke="none" stroke-width="1" />
<circle cx="161.70" cy="531.67" r="1.65" fill="#1f4a8c" stroke="none" stroke-width="1" />
<circle cx="145.20" cy="531.54" r="1.65" fill="#1f4a8c" stroke="none" stroke-width="1" />
<circle cx="154.00" cy="531.35" r="1.65" fill="#1f4a8c" stroke="none" stroke-width="1" />
<circle cx="159.42" cy="531.24" r="1.65" fill="#1f4a8c" stroke="none" stroke-width="1" />
<circle cx="150.77" cy="531.20" r="1.65" fill="#1f4a8c" stroke="none" stroke-width="1" />
<circle cx="161.51" cy="530.86" r="1.65" fill="#1f4a8c" stroke="none" stroke-width="1" />
<circle cx="159.43" cy="530.29" r="1.65" fill="#1f4a8c" stroke="none" stroke-width="1" />
<circle cx="152.90" cy="529.32" r="1.65" fill="#1f4a8c" stroke="none" stroke-width="1" />
<circle cx="156.20" cy="529.29" r="1.65" fill="#1f4a8c" stroke="none" stroke-width="1" />
<circle cx="150.70" cy="528.14" r="1.65" fill="#1f4a8c" stroke="none" stroke-width="1" />
<circle cx="148.50" cy="527.40" r="1.65" fill="#1f4a8c" stroke="none" stroke-width="1" />
<circle cx="154.00" cy="527.16" r="1.65" fill="#1f4a8c" stroke="none" stroke-width="1" />
<circle cx="157.30" cy="527.16" r="1.65" fill="#1f4a8c" stroke="none" stroke-width="1" />
<circle cx="160.60" cy="527.10" r="1.65" fill="#1f4a8c" stroke="none" stroke-width="1" />
<circle cx="146.30" cy="526.65" r="1.65" fill="#1f4a8c" stroke="none" stroke-width="1" />
<circle cx="143.51" cy="526.34" r="1.65" fill="#1f4a8c" stroke="none" stroke-width="1" />
<circle cx="147.44" cy="526.30" r="1.65" fill="#1f4a8c" stroke="none" stroke-width="1" />
<circle cx="160.61" cy="526.19" r="1.65" fill="#1f4a8c" stroke="none" stroke-width="1" />
<circle cx="151.80" cy="526.17" r="1.65" fill="#1f4a8c" stroke="none" stroke-width="1" />
<circle cx="152.34" cy="526.11" r="1.65" fill="#1f4a8c" stroke="none" stroke-width="1" />
<circle cx="161.93" cy="525.89" r="1.65" fill="#1f4a8c" stroke="none" stroke-width="1" />
<circle cx="150.97" cy="525.48" r="1.65" fill="#1f4a8c" stroke="none" stroke-width="1" />
<circle cx="144.87" cy="525.45" r="1.65" fill="#1f4a8c" stroke="none" stroke-width="1" />
<circle cx="155.33" cy="525.27" r="1.65" fill="#1f4a8c" stroke="none" stroke-width="1" />
<circle cx="158.40" cy="524.99" r="1.65" fill="#1f4a8c" stroke="none" stroke-width="1" />
<circle cx="158.14" cy="524.97" r="1.65" fill="#1f4a8c" stroke="none" stroke-width="1" />
<circle cx="148.57" cy="524.71" r="1.65" fill="#1f4a8c" stroke="none" stroke-width="1" />
<circle cx="145.14" cy="524.29" r="1.65" fill="#1f4a8c" stroke="none" stroke-width="1" />
<circle cx="149.75" cy="524.25" r="1.65" fill="#1f4a8c" stroke="none" stroke-width="1" />
<circle cx="152.90" cy="523.83" r="1.65" fill="#1f4a8c" stroke="none" stroke-width="1" />
<circle cx="160.60" cy="523.82" r="1.65" fill="#1f4a8c" stroke="none" stroke-width="1" />
<circle cx="155.10" cy="523.01" r="1.65" fill="#1f4a8c" stroke="none" stroke-width="1" />
<circle cx="161.62" cy="522.88" r="1.65" fill="#1f4a8c" stroke="none" stroke-width="1" />
<circle cx="157.75" cy="522.84" r="1.65" fill="#1f4a8c" stroke="none" stroke-width="1" />
<circle cx="145.72" cy="522.82" r="1.65" fill="#1f4a8c" stroke="none" stroke-width="1" />
<circle cx="148.50" cy="522.23" r="1.65" fill="#1f4a8c" stroke="none" stroke-width="1" />
<circle cx="151.80" cy="521.62" r="1.65" fill="#1f4a8c" stroke="none" stroke-width="1" />
<circle cx="148.13" cy="521.56" r="1.65" fill="#1f4a8c" stroke="none" stroke-width="1" />
<circle cx="159.50" cy="521.12" r="1.65" fill="#1f4a8c" stroke="none" stroke-width="1" />
<circle cx="144.10" cy="521.11" r="1.65" fill="#1f4a8c" stroke="none" stroke-width="1" />
<circle cx="152.90" cy="519.21" r="1.65" fill="#1f4a8c" stroke="none" stroke-width="1" />
<circle cx="152.90" cy="516.09" r="1.65" fill="#1f4a8c" stroke="none" stroke-width="1" />
<circle cx="156.20" cy="516.09" r="1.65" fill="#1f4a8c" stroke="none" stroke-width="1" />
<circle cx="150.70" cy="515.00" r="1.65" fill="#1f4a8c" stroke="none" stroke-width="1" />
<circle cx="158.40" cy="514.56" r="1.65" fill="#1f4a8c" stroke="none" stroke-width="1" />
<circle cx="152.90" cy="512.82" r="1.65" fill="#1f4a8c" stroke="none" stroke-width="1" />
<circle cx="155.10" cy="511.08" r="1.65" fill="#1f4a8c" stroke="none" stroke-width="1" />
<circle cx="152.90" cy="508.46" r="1.65" fill="#1f4a8c" stroke="none" stroke-width="1" />
<circle cx="155.10" cy="507.81" r="1.65" fill="#1f4a8c" stroke="none" stroke-width="1" />
<circle cx="150.70" cy="507.37" r="1.65" fill="#1f4a8c" stroke="none" stroke-width="1" />
<circle cx="184.00" cy="543.34" r="1.45" fill="#e9ecf8" stroke="#2a5a9f" stroke-width="0.8" />
<circle cx="186.60" cy="541.16" r="1.45" fill="#e9ecf8" stroke="#2a5a9f" stroke-width="0.8" />
<circle cx="184.00" cy="540.42" r="1.45" fill="#e9ecf8" stroke="#2a5a9f" stroke-width="0.8" />
<circle cx="184.00" cy="534.71" r="1.45" fill="#e9ecf8" stroke="#2a5a9f" stroke-width="0.8" />
<circle cx="186.60" cy="533.66" r="1.45" fill="#e9ecf8" stroke="#2a5a9f" stroke-width="0.8" />
<circle cx="181.40" cy="533.57" r="1.45" fill="#e9ecf8" stroke="#2a5a9f" stroke-width="0.8" />
<circle cx="189.20" cy="532.71" r="1.45" fill="#e9ecf8" stroke="#2a5a9f" stroke-width="0.8" />
<circle cx="178.80" cy="532.52" r="1.45" fill="#e9ecf8" stroke="#2a5a9f" stroke-width="0.8" />
<circle cx="184.00" cy="531.44" r="1.45" fill="#e9ecf8" stroke="#2a5a9f" stroke-width="0.8" />
<circle cx="186.60" cy="530.86" r="1.45" fill="#e9ecf8" stroke="#2a5a9f" stroke-width="0.8" />
<circle cx="181.40" cy="530.03" r="1.45" fill="#e9ecf8" stroke="#2a5a9f" stroke-width="0.8" />
<circle cx="184.00" cy="528.27" r="1.45" fill="#e9ecf8" stroke="#2a5a9f" stroke-width="0.8" />
<circle cx="186.60" cy="527.67" r="1.45" fill="#e9ecf8" stroke="#2a5a9f" stroke-width="0.8" />
<circle cx="181.40" cy="527.36" r="1.45" fill="#e9ecf8" stroke="#2a5a9f" stroke-width="0.8" />
<circle cx="189.20" cy="525.79" r="1.45" fill="#e9ecf8" stroke="#2a5a9f" stroke-width="0.8" />
<circle cx="184.00" cy="524.79" r="1.45" fill="#e9ecf8" stroke="#2a5a9f" stroke-width="0.8" />
<circle cx="186.60" cy="524.29" r="1.45" fill="#e9ecf8" stroke="#2a5a9f" stroke-width="0.8" />
<circle cx="181.40" cy="523.70" r="1.45" fill="#e9ecf8" stroke="#2a5a9f" stroke-width="0.8" />
<circle cx="178.80" cy="523.27" r="1.45" fill="#e9ecf8" stroke="#2a5a9f" stroke-width="0.8" />
<circle cx="190.50" cy="523.22" r="1.45" fill="#e9ecf8" stroke="#2a5a9f" stroke-width="0.8" />
<circle cx="176.20" cy="523.21" r="1.45" fill="#e9ecf8" stroke="#2a5a9f" stroke-width="0.8" />
<circle cx="193.10" cy="522.99" r="1.45" fill="#e9ecf8" stroke="#2a5a9f" stroke-width="0.8" />
<circle cx="188.60" cy="522.74" r="1.45" fill="#e9ecf8" stroke="#2a5a9f" stroke-width="0.8" />
<circle cx="192.46" cy="522.68" r="1.45" fill="#e9ecf8" stroke="#2a5a9f" stroke-width="0.8" />
<circle cx="178.17" cy="522.34" r="1.45" fill="#e9ecf8" stroke="#2a5a9f" stroke-width="0.8" />
<circle cx="184.00" cy="521.55" r="1.45" fill="#e9ecf8" stroke="#2a5a9f" stroke-width="0.8" />
<circle cx="186.60" cy="520.21" r="1.45" fill="#e9ecf8" stroke="#2a5a9f" stroke-width="0.8" />
<circle cx="181.40" cy="519.66" r="1.45" fill="#e9ecf8" stroke="#2a5a9f" stroke-width="0.8" />
<circle cx="189.20" cy="519.15" r="1.45" fill="#e9ecf8" stroke="#2a5a9f" stroke-width="0.8" />
<circle cx="184.00" cy="518.72" r="1.45" fill="#e9ecf8" stroke="#2a5a9f" stroke-width="0.8" />
<circle cx="178.80" cy="518.63" r="1.45" fill="#e9ecf8" stroke="#2a5a9f" stroke-width="0.8" />
<circle cx="191.80" cy="518.25" r="1.45" fill="#e9ecf8" stroke="#2a5a9f" stroke-width="0.8" />
<circle cx="176.20" cy="518.08" r="1.45" fill="#e9ecf8" stroke="#2a5a9f" stroke-width="0.8" />
<circle cx="192.64" cy="518.03" r="1.45" fill="#e9ecf8" stroke="#2a5a9f" stroke-width="0.8" />
<circle cx="191.34" cy="517.90" r="1.45" fill="#e9ecf8" stroke="#2a5a9f" stroke-width="0.8" />
<circle cx="186.60" cy="517.19" r="1.45" fill="#e9ecf8" stroke="#2a5a9f" stroke-width="0.8" />
<circle cx="182.70" cy="516.34" r="1.45" fill="#e9ecf8" stroke="#2a5a9f" stroke-width="0.8" />
<circle cx="180.10" cy="516.31" r="1.45" fill="#e9ecf8" stroke="#2a5a9f" stroke-width="0.8" />
<circle cx="189.20" cy="516.29" r="1.45" fill="#e9ecf8" stroke="#2a5a9f" stroke-width="0.8" />
<circle cx="185.99" cy="516.09" r="1.45" fill="#e9ecf8" stroke="#2a5a9f" stroke-width="0.8" />
<circle cx="182.49" cy="515.87" r="1.45" fill="#e9ecf8" stroke="#2a5a9f" stroke-width="0.8" />
<circle cx="177.50" cy="515.65" r="1.45" fill="#e9ecf8" stroke="#2a5a9f" stroke-width="0.8" />
<circle cx="174.90" cy="515.63" r="1.45" fill="#e9ecf8" stroke="#2a5a9f" stroke-width="0.8" />
<circle cx="191.80" cy="515.11" r="1.45" fill="#e9ecf8" stroke="#2a5a9f" stroke-width="0.8" />
<circle cx="176.39" cy="515.08" r="1.45" fill="#e9ecf8" stroke="#2a5a9f" stroke-width="0.8" />
<circle cx="175.14" cy="515.00" r="1.45" fill="#e9ecf8" stroke="#2a5a9f" stroke-width="0.8" />
<circle cx="192.88" cy="515.00" r="1.45" fill="#e9ecf8" stroke="#2a5a9f" stroke-width="0.8" />
<circle cx="178.98" cy="514.56" r="1.45" fill="#e9ecf8" stroke="#2a5a9f" stroke-width="0.8" />
<circle cx="187.90" cy="513.91" r="1.45" fill="#e9ecf8" stroke="#2a5a9f" stroke-width="0.8" />
<circle cx="184.00" cy="513.00" r="1.45" fill="#e9ecf8" stroke="#2a5a9f" stroke-width="0.8" />
<circle cx="181.40" cy="512.82" r="1.45" fill="#e9ecf8" stroke="#2a5a9f" stroke-width="0.8" />
<circle cx="190.50" cy="512.82" r="1.45" fill="#e9ecf8" stroke="#2a5a9f" stroke-width="0.8" />
<circle cx="187.93" cy="512.82" r="1.45" fill="#e9ecf8" stroke="#2a5a9f" stroke-width="0.8" />
<circle cx="179.33" cy="512.82" r="1.45" fill="#e9ecf8" stroke="#2a5a9f" stroke-width="0.8" />
<circle cx="190.22" cy="512.82" r="1.45" fill="#e9ecf8" stroke="#2a5a9f" stroke-width="0.8" />
<circle cx="185.85" cy="512.82" r="1.45" fill="#e9ecf8" stroke="#2a5a9f" stroke-width="0.8" />
<circle cx="184.00" cy="508.46" r="1.45" fill="#e9ecf8" stroke="#2a5a9f" stroke-width="0.8" />
<circle cx="186.60" cy="507.37" r="1.45" fill="#e9ecf8" stroke="#2a5a9f" stroke-width="0.8" />
<circle cx="181.40" cy="506.28" r="1.45" fill="#e9ecf8" stroke="#2a5a9f" stroke-width="0.8" />
<circle cx="184.00" cy="504.75" r="1.45" fill="#e9ecf8" stroke="#2a5a9f" stroke-width="0.8" />
<circle cx="186.60" cy="503.01" r="1.45" fill="#e9ecf8" stroke="#2a5a9f" stroke-width="0.8" />
<circle cx="184.00" cy="499.74" r="1.45" fill="#e9ecf8" stroke="#2a5a9f" stroke-width="0.8" />
<circle cx="186.60" cy="497.56" r="1.45" fill="#e9ecf8" stroke="#2a5a9f" stroke-width="0.8" />
<circle cx="184.00" cy="496.25" r="1.45" fill="#e9ecf8" stroke="#2a5a9f" stroke-width="0.8" />
<circle cx="186.60" cy="494.94" r="1.45" fill="#e9ecf8" stroke="#2a5a9f" stroke-width="0.8" />
<circle cx="181.40" cy="494.29" r="1.45" fill="#e9ecf8" stroke="#2a5a9f" stroke-width="0.8" />
<circle cx="184.00" cy="487.97" r="1.45" fill="#e9ecf8" stroke="#2a5a9f" stroke-width="0.8" />
<circle cx="186.60" cy="487.10" r="1.45" fill="#e9ecf8" stroke="#2a5a9f" stroke-width="0.8" />
<circle cx="184.00" cy="479.68" r="1.45" fill="#e9ecf8" stroke="#2a5a9f" stroke-width="0.8" />
<circle cx="184.00" cy="476.85" r="1.45" fill="#e9ecf8" stroke="#2a5a9f" stroke-width="0.8" />
<circle cx="184.00" cy="472.49" r="1.45" fill="#e9ecf8" stroke="#2a5a9f" stroke-width="0.8" />
<circle cx="184.00" cy="459.85" r="1.45" fill="#e9ecf8" stroke="#2a5a9f" stroke-width="0.8" />
<path d="M152.4 500.5 V451.5 H184 V455.8" fill="none" stroke="#231f20" stroke-width="1"/>
<text transform="translate(168.20 452.12) scale(1.000 1)" font-size="8.6" text-anchor="middle" font-weight="bold" fill="#231f20" >***</text>
<text transform="translate(153.00 563.00) scale(0.990 1)" font-size="8.3" text-anchor="middle" font-weight="normal" fill="#231f20"  stroke="#231f20" stroke-width="0.22">Vehicle</text>
<text transform="translate(153.00 573.30) scale(0.924 1)" font-size="8.3" text-anchor="middle" font-weight="normal" fill="#231f20"  stroke="#231f20" stroke-width="0.22">BM</text>
<text transform="translate(184.20 563.00) scale(0.926 1)" font-size="8.3" text-anchor="middle" font-weight="normal" fill="#231f20"  stroke="#231f20" stroke-width="0.22">G-CSF</text>
<text transform="translate(184.20 573.30) scale(0.884 1)" font-size="8.3" text-anchor="middle" font-weight="normal" fill="#231f20"  stroke="#231f20" stroke-width="0.22">Spl</text>
<text transform="translate(115.10 491.80) rotate(-90) scale(0.827 1)" font-size="9.5" text-anchor="middle" fill="#231f20" stroke="#231f20" stroke-width="0.08">CD53 intensity (RFU X 10<tspan font-size="6" dy="-3">6</tspan><tspan dy="3">)</tspan></text>
<text transform="translate(224.80 478.50) rotate(-90) scale(1.024 1)" font-size="8.3" text-anchor="middle" fill="#231f20" stroke="#231f20" stroke-width="0.08">Vehicle BM</text>
<text transform="translate(224.80 527.30) rotate(-90) scale(0.922 1)" font-size="8.3" text-anchor="middle" fill="#231f20" stroke="#231f20" stroke-width="0.08">G-CSF Spl</text>
<text transform="translate(251.70 451.50) scale(1.011 1)" font-size="7.8" text-anchor="middle" font-weight="normal" fill="#231f20" >DAPI</text>
<text transform="translate(299.20 451.50) scale(1.098 1)" font-size="7.8" text-anchor="middle" font-weight="normal" fill="#231f20" >CD53</text>
<text transform="translate(347.30 450.00) scale(1.037 1)" font-size="8.1" text-anchor="middle" font-weight="normal" fill="#231f20" >Merge</text>
<text transform="translate(396.80 451.70) scale(0.992 1)" font-size="7.9" text-anchor="middle" font-weight="normal" fill="#231f20" >DIC</text>
<rect x="228.20" y="454.40" width="45.60" height="45.60" fill="#0b0b0b" stroke="none" stroke-width="1" />
<rect x="277.00" y="454.40" width="45.60" height="45.60" fill="#0b0b0b" stroke="none" stroke-width="1" />
<rect x="325.70" y="454.40" width="45.60" height="45.60" fill="#0b0b0b" stroke="none" stroke-width="1" />
<rect x="374.60" y="454.40" width="45.60" height="45.60" fill="url(#dic)" stroke="none" stroke-width="1" />
<rect x="228.20" y="502.90" width="45.60" height="45.00" fill="#0b0b0b" stroke="none" stroke-width="1" />
<rect x="277.00" y="502.90" width="45.60" height="45.00" fill="#0b0b0b" stroke="none" stroke-width="1" />
<rect x="325.70" y="502.90" width="45.60" height="45.00" fill="#0b0b0b" stroke="none" stroke-width="1" />
<rect x="374.60" y="502.90" width="45.60" height="45.00" fill="url(#dic)" stroke="none" stroke-width="1" />
<g filter="url(#b1)">
<path transform="translate(252.3 476.5)" d="M-5.5 -9.5 C-2 -11.5 3 -10.5 5 -7 C6 -4.5 6.5 -1.5 8 1 C10 4 9.5 8 6 9.5 C3 11 -1 10.5 -4 9 C-8 7 -10 2 -9 -3 C-8.5 -6 -7.5 -8.3 -5.5 -9.5Z" fill="url(#gb)"/>
<path transform="translate(251.4 526)" d="M-7 -9.5 C-3 -12 3 -11.5 7 -8.5 C10.5 -5.5 11.5 0 10 5 C8.5 9.5 4 12 -1 11.5 C-6 11 -10 7.5 -11 2.5 C-11.8 -2 -10.5 -7 -7 -9.5Z" fill="url(#gb)"/>
<path transform="translate(349.6 476.3)" d="M-5.5 -9.5 C-2 -11.5 3 -10.5 5 -7 C6 -4.5 6.5 -1.5 8 1 C10 4 9.5 8 6 9.5 C3 11 -1 10.5 -4 9 C-8 7 -10 2 -9 -3 C-8.5 -6 -7.5 -8.3 -5.5 -9.5Z" fill="url(#gb2)"/>
<path transform="translate(348.2 525.6) scale(1.07)" d="M-7 -9.5 C-3 -12 3 -11.5 7 -8.5 C10.5 -5.5 11.5 0 10 5 C8.5 9.5 4 12 -1 11.5 C-6 11 -10 7.5 -11 2.5 C-11.8 -2 -10.5 -7 -7 -9.5Z" fill="url(#gb2)"/>
<circle cx="250.00" cy="474.00" r="1.6" fill="#1d1560" stroke="none" stroke-width="1" opacity="0.55"/>
<circle cx="254.50" cy="480.00" r="1.5" fill="#1d1560" stroke="none" stroke-width="1" opacity="0.55"/>
<circle cx="248.50" cy="481.00" r="1.2" fill="#1d1560" stroke="none" stroke-width="1" opacity="0.55"/>
<circle cx="255.00" cy="471.50" r="1.1" fill="#1d1560" stroke="none" stroke-width="1" opacity="0.55"/>
<circle cx="248.00" cy="522.00" r="1.7" fill="#1d1560" stroke="none" stroke-width="1" opacity="0.55"/>
<circle cx="254.00" cy="528.00" r="1.6" fill="#1d1560" stroke="none" stroke-width="1" opacity="0.55"/>
<circle cx="251.00" cy="532.00" r="1.3" fill="#1d1560" stroke="none" stroke-width="1" opacity="0.55"/>
<circle cx="256.00" cy="520.50" r="1.2" fill="#1d1560" stroke="none" stroke-width="1" opacity="0.55"/>
<circle cx="246.50" cy="529.00" r="1.1" fill="#1d1560" stroke="none" stroke-width="1" opacity="0.55"/>
<circle cx="347.50" cy="473.00" r="1.4" fill="#1d1560" stroke="none" stroke-width="1" opacity="0.55"/>
<circle cx="352.00" cy="479.00" r="1.4" fill="#1d1560" stroke="none" stroke-width="1" opacity="0.55"/>
<circle cx="345.00" cy="521.00" r="1.6" fill="#1d1560" stroke="none" stroke-width="1" opacity="0.55"/>
<circle cx="351.00" cy="528.00" r="1.6" fill="#1d1560" stroke="none" stroke-width="1" opacity="0.55"/>
<circle cx="348.00" cy="532.50" r="1.2" fill="#1d1560" stroke="none" stroke-width="1" opacity="0.55"/>
<circle cx="353.00" cy="520.00" r="1.1" fill="#1d1560" stroke="none" stroke-width="1" opacity="0.55"/>
</g>
<g filter="url(#b2)" fill="none" stroke-linecap="round">
<path d="M294.6 466.2 C291.2 468.5 289.9 472.5 290.2 476.5 C290.5 479.8 291.6 482.3 293.6 484" stroke="#8e1117" stroke-width="1.9"/>
<path d="M292.2 468.6 C290.9 470.8 290.3 473.4 290.3 476" stroke="#d3262c" stroke-width="1.3"/>
<path d="M295 485.6 C299 488 304.5 487.3 307.6 484 C310 481.3 310.6 477 309.3 473.3 C308.3 470.6 306.3 468.4 303.6 467.4" stroke="#3a0809" stroke-width="1.1" stroke-dasharray="1.4 2.6"/>
<circle cx="303.00" cy="487.20" r="0.8" fill="#6a0f12" stroke="none" stroke-width="1" />
<circle cx="309.60" cy="481.00" r="0.8" fill="#6a0f12" stroke="none" stroke-width="1" />
<circle cx="306.60" cy="471.20" r="0.8" fill="#6a0f12" stroke="none" stroke-width="1" />
<circle cx="299.00" cy="486.60" r="0.8" fill="#6a0f12" stroke="none" stroke-width="1" />
<circle cx="309.60" cy="476.00" r="0.8" fill="#6a0f12" stroke="none" stroke-width="1" />
<path d="M299.5 512.8 C304.5 512 309.6 514.6 311.2 519.5 C312.8 524.5 311.8 531 308 534.6 C304.2 538.2 297.6 538.3 293.6 535.3 C289.3 532 287.9 526 289.5 520.8 C291 516 294.8 513.4 299.5 512.8Z" stroke="#9e1218" stroke-width="2.1"/>
<path d="M299.5 512.8 C304.5 512 309.6 514.6 311.2 519.5 C312.8 524.5 311.8 531 308 534.6 C304.2 538.2 297.6 538.3 293.6 535.3 C289.3 532 287.9 526 289.5 520.8 C291 516 294.8 513.4 299.5 512.8Z" stroke="#dc3034" stroke-width="1.0" stroke-dasharray="2.2 3.4"/>
<path d="M342.6 466 C339.6 468.4 338.4 472.6 338.7 476.6 C339 479.8 340.2 482.4 342.3 484" stroke="#b4173a" stroke-width="2.3"/>
<path d="M343.4 484.6 C345 486.2 347.4 487 349.6 487" stroke="#7a1a7a" stroke-width="1.6"/>
<path d="M347.7 512.9 C352.7 512.1 357.8 514.7 359.4 519.6 C361 524.6 360 531.1 356.2 534.7 C352.4 538.3 345.8 538.4 341.8 535.4 C337.5 532.1 336.1 526.1 337.7 520.9 C339.2 516.1 343 513.5 347.7 512.9Z" stroke="#7a1c86" stroke-width="2.3"/>
<path d="M352.5 513.5 C350 512.6 346.5 512.7 344 514 C339.6 516.2 337 521 337.1 526 C337.2 531 340.4 535.4 345 537.2 C347.4 538 350 537.9 352 537.2" stroke="#bd1a32" stroke-width="2.4"/>
</g>
<g filter="url(#b1)" fill="none">
<path transform="translate(398.2 476) scale(1.12)" d="M-5.5 -9.5 C-2 -11.5 3 -10.5 5 -7 C6 -4.5 6.5 -1.5 8 1 C10 4 9.5 8 6 9.5 C3 11 -1 10.5 -4 9 C-8 7 -10 2 -9 -3 C-8.5 -6 -7.5 -8.3 -5.5 -9.5Z" stroke="#626262" stroke-width="2.4" opacity="0.35"/>
<path transform="translate(398.2 476) scale(1.02)" d="M-5.5 -9.5 C-2 -11.5 3 -10.5 5 -7 C6 -4.5 6.5 -1.5 8 1 C10 4 9.5 8 6 9.5 C3 11 -1 10.5 -4 9 C-8 7 -10 2 -9 -3 C-8.5 -6 -7.5 -8.3 -5.5 -9.5Z" stroke="#4d4d4d" stroke-width="1.0" fill="#555555"/>
<path transform="translate(397.2 525.4) scale(1.1)" d="M-7 -9.5 C-3 -12 3 -11.5 7 -8.5 C10.5 -5.5 11.5 0 10 5 C8.5 9.5 4 12 -1 11.5 C-6 11 -10 7.5 -11 2.5 C-11.8 -2 -10.5 -7 -7 -9.5Z" stroke="#626262" stroke-width="2.2" opacity="0.3"/>
<path transform="translate(397.2 525.4) scale(1.0)" d="M-7 -9.5 C-3 -12 3 -11.5 7 -8.5 C10.5 -5.5 11.5 0 10 5 C8.5 9.5 4 12 -1 11.5 C-6 11 -10 7.5 -11 2.5 C-11.8 -2 -10.5 -7 -7 -9.5Z" stroke="#525252" stroke-width="0.9" fill="#585858"/>
</g>
<line x1="399.90" y1="498.00" x2="418.20" y2="498.00" stroke="#c0c0c0" stroke-width="1.1" />
<line x1="399.90" y1="546.00" x2="418.20" y2="546.00" stroke="#c0c0c0" stroke-width="1.1" />
<rect x="0.5" y="0.5" width="519" height="580" fill="none" stroke="#1a1a1a" stroke-width="1"/>
</svg></body></html>
